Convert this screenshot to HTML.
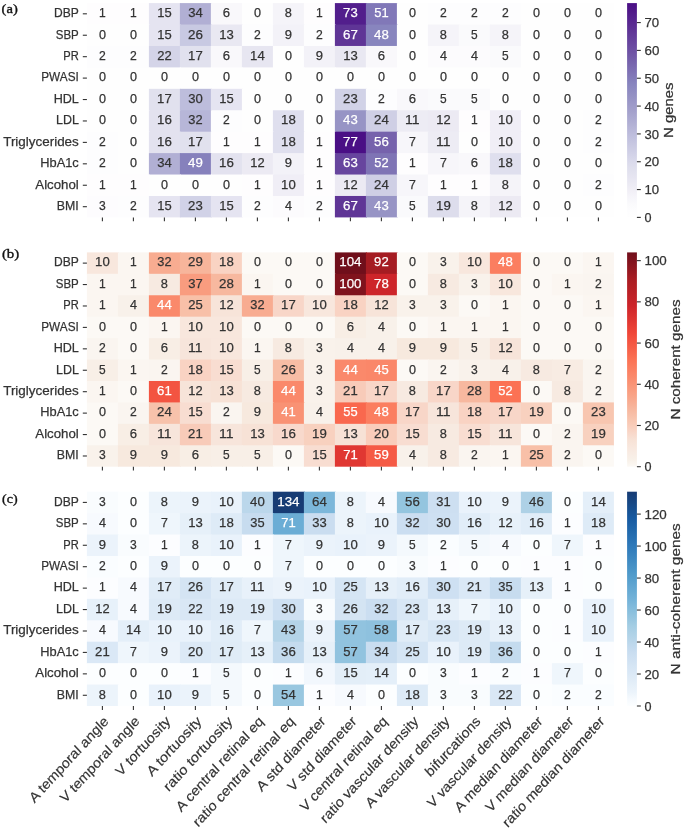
<!DOCTYPE html>
<html><head><meta charset="utf-8"><title>Heatmaps</title>
<style>
html,body{margin:0;padding:0;background:#fff;}
body{width:685px;height:830px;overflow:hidden;font-family:"Liberation Sans",sans-serif;}
svg{display:block;will-change:transform;}
text{stroke-width:0.25px;}
</style></head><body>
<svg width="685" height="830" viewBox="0 0 685 830" font-family="Liberation Sans, sans-serif"><g>
<rect x="86.90" y="3.10" width="32.00" height="22.43" fill="#fefdfe"/>
<rect x="117.90" y="3.10" width="32.00" height="22.43" fill="#fefdfe"/>
<rect x="148.90" y="3.10" width="32.00" height="22.43" fill="#e5e4f1"/>
<rect x="179.90" y="3.10" width="32.00" height="22.43" fill="#b1afd4"/>
<rect x="210.90" y="3.10" width="32.00" height="22.43" fill="#f9f8fb"/>
<rect x="241.90" y="3.10" width="32.00" height="22.43" fill="#fefefe"/>
<rect x="272.90" y="3.10" width="32.00" height="22.43" fill="#f5f4f9"/>
<rect x="303.90" y="3.10" width="32.00" height="22.43" fill="#fefdfe"/>
<rect x="334.90" y="3.10" width="32.00" height="22.43" fill="#521e8c"/>
<rect x="365.90" y="3.10" width="32.00" height="22.43" fill="#8178b8"/>
<rect x="396.90" y="3.10" width="32.00" height="22.43" fill="#fefefe"/>
<rect x="427.90" y="3.10" width="32.00" height="22.43" fill="#fdfdfe"/>
<rect x="458.90" y="3.10" width="32.00" height="22.43" fill="#fdfdfe"/>
<rect x="489.90" y="3.10" width="32.00" height="22.43" fill="#fdfdfe"/>
<rect x="520.90" y="3.10" width="32.00" height="22.43" fill="#fefefe"/>
<rect x="551.90" y="3.10" width="32.00" height="22.43" fill="#fefefe"/>
<rect x="582.90" y="3.10" width="31.00" height="22.43" fill="#fefefe"/>
<rect x="86.90" y="24.53" width="32.00" height="22.43" fill="#fefefe"/>
<rect x="117.90" y="24.53" width="32.00" height="22.43" fill="#fefefe"/>
<rect x="148.90" y="24.53" width="32.00" height="22.43" fill="#e5e4f1"/>
<rect x="179.90" y="24.53" width="32.00" height="22.43" fill="#c8c9e2"/>
<rect x="210.90" y="24.53" width="32.00" height="22.43" fill="#e9e8f2"/>
<rect x="241.90" y="24.53" width="32.00" height="22.43" fill="#fdfdfe"/>
<rect x="272.90" y="24.53" width="32.00" height="22.43" fill="#f3f2f8"/>
<rect x="303.90" y="24.53" width="32.00" height="22.43" fill="#fdfdfe"/>
<rect x="334.90" y="24.53" width="32.00" height="22.43" fill="#5f3596"/>
<rect x="365.90" y="24.53" width="32.00" height="22.43" fill="#8885be"/>
<rect x="396.90" y="24.53" width="32.00" height="22.43" fill="#fefefe"/>
<rect x="427.90" y="24.53" width="32.00" height="22.43" fill="#f5f4f9"/>
<rect x="458.90" y="24.53" width="32.00" height="22.43" fill="#fafafc"/>
<rect x="489.90" y="24.53" width="32.00" height="22.43" fill="#f5f4f9"/>
<rect x="520.90" y="24.53" width="32.00" height="22.43" fill="#fefefe"/>
<rect x="551.90" y="24.53" width="32.00" height="22.43" fill="#fefefe"/>
<rect x="582.90" y="24.53" width="31.00" height="22.43" fill="#fefefe"/>
<rect x="86.90" y="45.96" width="32.00" height="22.43" fill="#fdfdfe"/>
<rect x="117.90" y="45.96" width="32.00" height="22.43" fill="#fdfdfe"/>
<rect x="148.90" y="45.96" width="32.00" height="22.43" fill="#d4d4e8"/>
<rect x="179.90" y="45.96" width="32.00" height="22.43" fill="#e1e1ee"/>
<rect x="210.90" y="45.96" width="32.00" height="22.43" fill="#f9f8fb"/>
<rect x="241.90" y="45.96" width="32.00" height="22.43" fill="#e7e6f1"/>
<rect x="272.90" y="45.96" width="32.00" height="22.43" fill="#fefefe"/>
<rect x="303.90" y="45.96" width="32.00" height="22.43" fill="#f3f2f8"/>
<rect x="334.90" y="45.96" width="32.00" height="22.43" fill="#e9e8f2"/>
<rect x="365.90" y="45.96" width="32.00" height="22.43" fill="#f9f8fb"/>
<rect x="396.90" y="45.96" width="32.00" height="22.43" fill="#fefefe"/>
<rect x="427.90" y="45.96" width="32.00" height="22.43" fill="#fcfbfd"/>
<rect x="458.90" y="45.96" width="32.00" height="22.43" fill="#fcfbfd"/>
<rect x="489.90" y="45.96" width="32.00" height="22.43" fill="#fafafc"/>
<rect x="520.90" y="45.96" width="32.00" height="22.43" fill="#fefefe"/>
<rect x="551.90" y="45.96" width="32.00" height="22.43" fill="#fefefe"/>
<rect x="582.90" y="45.96" width="31.00" height="22.43" fill="#fefefe"/>
<rect x="86.90" y="67.39" width="32.00" height="22.43" fill="#fefefe"/>
<rect x="117.90" y="67.39" width="32.00" height="22.43" fill="#fefefe"/>
<rect x="148.90" y="67.39" width="32.00" height="22.43" fill="#fefefe"/>
<rect x="179.90" y="67.39" width="32.00" height="22.43" fill="#fefefe"/>
<rect x="210.90" y="67.39" width="32.00" height="22.43" fill="#fefefe"/>
<rect x="241.90" y="67.39" width="32.00" height="22.43" fill="#fefefe"/>
<rect x="272.90" y="67.39" width="32.00" height="22.43" fill="#fefefe"/>
<rect x="303.90" y="67.39" width="32.00" height="22.43" fill="#fefefe"/>
<rect x="334.90" y="67.39" width="32.00" height="22.43" fill="#fefefe"/>
<rect x="365.90" y="67.39" width="32.00" height="22.43" fill="#fefefe"/>
<rect x="396.90" y="67.39" width="32.00" height="22.43" fill="#fefefe"/>
<rect x="427.90" y="67.39" width="32.00" height="22.43" fill="#fefefe"/>
<rect x="458.90" y="67.39" width="32.00" height="22.43" fill="#fefefe"/>
<rect x="489.90" y="67.39" width="32.00" height="22.43" fill="#fefefe"/>
<rect x="520.90" y="67.39" width="32.00" height="22.43" fill="#fefefe"/>
<rect x="551.90" y="67.39" width="32.00" height="22.43" fill="#fefefe"/>
<rect x="582.90" y="67.39" width="31.00" height="22.43" fill="#fefefe"/>
<rect x="86.90" y="88.82" width="32.00" height="22.43" fill="#fefefe"/>
<rect x="117.90" y="88.82" width="32.00" height="22.43" fill="#fefefe"/>
<rect x="148.90" y="88.82" width="32.00" height="22.43" fill="#e1e1ee"/>
<rect x="179.90" y="88.82" width="32.00" height="22.43" fill="#bdbddc"/>
<rect x="210.90" y="88.82" width="32.00" height="22.43" fill="#e5e4f1"/>
<rect x="241.90" y="88.82" width="32.00" height="22.43" fill="#fefefe"/>
<rect x="272.90" y="88.82" width="32.00" height="22.43" fill="#fefefe"/>
<rect x="303.90" y="88.82" width="32.00" height="22.43" fill="#fefefe"/>
<rect x="334.90" y="88.82" width="32.00" height="22.43" fill="#d1d2e7"/>
<rect x="365.90" y="88.82" width="32.00" height="22.43" fill="#fdfdfe"/>
<rect x="396.90" y="88.82" width="32.00" height="22.43" fill="#f9f8fb"/>
<rect x="427.90" y="88.82" width="32.00" height="22.43" fill="#fafafc"/>
<rect x="458.90" y="88.82" width="32.00" height="22.43" fill="#fafafc"/>
<rect x="489.90" y="88.82" width="32.00" height="22.43" fill="#fefefe"/>
<rect x="520.90" y="88.82" width="32.00" height="22.43" fill="#fefefe"/>
<rect x="551.90" y="88.82" width="32.00" height="22.43" fill="#fefefe"/>
<rect x="582.90" y="88.82" width="31.00" height="22.43" fill="#fefefe"/>
<rect x="86.90" y="110.25" width="32.00" height="22.43" fill="#fefefe"/>
<rect x="117.90" y="110.25" width="32.00" height="22.43" fill="#fefefe"/>
<rect x="148.90" y="110.25" width="32.00" height="22.43" fill="#e3e2ef"/>
<rect x="179.90" y="110.25" width="32.00" height="22.43" fill="#b7b6d8"/>
<rect x="210.90" y="110.25" width="32.00" height="22.43" fill="#fdfdfe"/>
<rect x="241.90" y="110.25" width="32.00" height="22.43" fill="#fefefe"/>
<rect x="272.90" y="110.25" width="32.00" height="22.43" fill="#dfdfee"/>
<rect x="303.90" y="110.25" width="32.00" height="22.43" fill="#fefefe"/>
<rect x="334.90" y="110.25" width="32.00" height="22.43" fill="#9794c5"/>
<rect x="365.90" y="110.25" width="32.00" height="22.43" fill="#cfcfe5"/>
<rect x="396.90" y="110.25" width="32.00" height="22.43" fill="#edecf4"/>
<rect x="427.90" y="110.25" width="32.00" height="22.43" fill="#eceaf3"/>
<rect x="458.90" y="110.25" width="32.00" height="22.43" fill="#fefdfe"/>
<rect x="489.90" y="110.25" width="32.00" height="22.43" fill="#f0eef6"/>
<rect x="520.90" y="110.25" width="32.00" height="22.43" fill="#fefefe"/>
<rect x="551.90" y="110.25" width="32.00" height="22.43" fill="#fefefe"/>
<rect x="582.90" y="110.25" width="31.00" height="22.43" fill="#fdfdfe"/>
<rect x="86.90" y="131.68" width="32.00" height="22.43" fill="#fdfdfe"/>
<rect x="117.90" y="131.68" width="32.00" height="22.43" fill="#fefefe"/>
<rect x="148.90" y="131.68" width="32.00" height="22.43" fill="#e3e2ef"/>
<rect x="179.90" y="131.68" width="32.00" height="22.43" fill="#e1e1ee"/>
<rect x="210.90" y="131.68" width="32.00" height="22.43" fill="#fefdfe"/>
<rect x="241.90" y="131.68" width="32.00" height="22.43" fill="#fefdfe"/>
<rect x="272.90" y="131.68" width="32.00" height="22.43" fill="#dfdfee"/>
<rect x="303.90" y="131.68" width="32.00" height="22.43" fill="#fefdfe"/>
<rect x="334.90" y="131.68" width="32.00" height="22.43" fill="#4a0f85"/>
<rect x="365.90" y="131.68" width="32.00" height="22.43" fill="#7662ac"/>
<rect x="396.90" y="131.68" width="32.00" height="22.43" fill="#f7f6fa"/>
<rect x="427.90" y="131.68" width="32.00" height="22.43" fill="#edecf4"/>
<rect x="458.90" y="131.68" width="32.00" height="22.43" fill="#fefefe"/>
<rect x="489.90" y="131.68" width="32.00" height="22.43" fill="#f0eef6"/>
<rect x="520.90" y="131.68" width="32.00" height="22.43" fill="#fefefe"/>
<rect x="551.90" y="131.68" width="32.00" height="22.43" fill="#fefefe"/>
<rect x="582.90" y="131.68" width="31.00" height="22.43" fill="#fdfdfe"/>
<rect x="86.90" y="153.11" width="32.00" height="22.43" fill="#fdfdfe"/>
<rect x="117.90" y="153.11" width="32.00" height="22.43" fill="#fefefe"/>
<rect x="148.90" y="153.11" width="32.00" height="22.43" fill="#b1afd4"/>
<rect x="179.90" y="153.11" width="32.00" height="22.43" fill="#8681bc"/>
<rect x="210.90" y="153.11" width="32.00" height="22.43" fill="#e3e2ef"/>
<rect x="241.90" y="153.11" width="32.00" height="22.43" fill="#eceaf3"/>
<rect x="272.90" y="153.11" width="32.00" height="22.43" fill="#f3f2f8"/>
<rect x="303.90" y="153.11" width="32.00" height="22.43" fill="#fefdfe"/>
<rect x="334.90" y="153.11" width="32.00" height="22.43" fill="#67459e"/>
<rect x="365.90" y="153.11" width="32.00" height="22.43" fill="#7f74b5"/>
<rect x="396.90" y="153.11" width="32.00" height="22.43" fill="#fefdfe"/>
<rect x="427.90" y="153.11" width="32.00" height="22.43" fill="#f7f6fa"/>
<rect x="458.90" y="153.11" width="32.00" height="22.43" fill="#f9f8fb"/>
<rect x="489.90" y="153.11" width="32.00" height="22.43" fill="#dfdfee"/>
<rect x="520.90" y="153.11" width="32.00" height="22.43" fill="#fefefe"/>
<rect x="551.90" y="153.11" width="32.00" height="22.43" fill="#fefefe"/>
<rect x="582.90" y="153.11" width="31.00" height="22.43" fill="#fefefe"/>
<rect x="86.90" y="174.54" width="32.00" height="22.43" fill="#fefdfe"/>
<rect x="117.90" y="174.54" width="32.00" height="22.43" fill="#fefdfe"/>
<rect x="148.90" y="174.54" width="32.00" height="22.43" fill="#fefefe"/>
<rect x="179.90" y="174.54" width="32.00" height="22.43" fill="#fefefe"/>
<rect x="210.90" y="174.54" width="32.00" height="22.43" fill="#fefefe"/>
<rect x="241.90" y="174.54" width="32.00" height="22.43" fill="#fefdfe"/>
<rect x="272.90" y="174.54" width="32.00" height="22.43" fill="#f0eef6"/>
<rect x="303.90" y="174.54" width="32.00" height="22.43" fill="#fefdfe"/>
<rect x="334.90" y="174.54" width="32.00" height="22.43" fill="#eceaf3"/>
<rect x="365.90" y="174.54" width="32.00" height="22.43" fill="#cfcfe5"/>
<rect x="396.90" y="174.54" width="32.00" height="22.43" fill="#f7f6fa"/>
<rect x="427.90" y="174.54" width="32.00" height="22.43" fill="#fefdfe"/>
<rect x="458.90" y="174.54" width="32.00" height="22.43" fill="#fefdfe"/>
<rect x="489.90" y="174.54" width="32.00" height="22.43" fill="#f5f4f9"/>
<rect x="520.90" y="174.54" width="32.00" height="22.43" fill="#fefefe"/>
<rect x="551.90" y="174.54" width="32.00" height="22.43" fill="#fefefe"/>
<rect x="582.90" y="174.54" width="31.00" height="22.43" fill="#fdfdfe"/>
<rect x="86.90" y="195.97" width="32.00" height="21.43" fill="#fdfcfe"/>
<rect x="117.90" y="195.97" width="32.00" height="21.43" fill="#fdfdfe"/>
<rect x="148.90" y="195.97" width="32.00" height="21.43" fill="#e5e4f1"/>
<rect x="179.90" y="195.97" width="32.00" height="21.43" fill="#d1d2e7"/>
<rect x="210.90" y="195.97" width="32.00" height="21.43" fill="#e5e4f1"/>
<rect x="241.90" y="195.97" width="32.00" height="21.43" fill="#fdfdfe"/>
<rect x="272.90" y="195.97" width="32.00" height="21.43" fill="#fcfbfd"/>
<rect x="303.90" y="195.97" width="32.00" height="21.43" fill="#fdfdfe"/>
<rect x="334.90" y="195.97" width="32.00" height="21.43" fill="#5f3596"/>
<rect x="365.90" y="195.97" width="32.00" height="21.43" fill="#9794c5"/>
<rect x="396.90" y="195.97" width="32.00" height="21.43" fill="#fafafc"/>
<rect x="427.90" y="195.97" width="32.00" height="21.43" fill="#ddddec"/>
<rect x="458.90" y="195.97" width="32.00" height="21.43" fill="#f5f4f9"/>
<rect x="489.90" y="195.97" width="32.00" height="21.43" fill="#eceaf3"/>
<rect x="520.90" y="195.97" width="32.00" height="21.43" fill="#fefefe"/>
<rect x="551.90" y="195.97" width="32.00" height="21.43" fill="#fefefe"/>
<rect x="582.90" y="195.97" width="31.00" height="21.43" fill="#fefefe"/>
<text x="102.40" y="17.11" font-size="13.54" text-anchor="middle" fill="#333333" stroke="#333333" textLength="6.72" lengthAdjust="spacingAndGlyphs">1</text>
<text x="133.40" y="17.11" font-size="13.54" text-anchor="middle" fill="#333333" stroke="#333333" textLength="6.72" lengthAdjust="spacingAndGlyphs">1</text>
<text x="164.40" y="17.11" font-size="13.54" text-anchor="middle" fill="#333333" stroke="#333333" textLength="14.44" lengthAdjust="spacingAndGlyphs">15</text>
<text x="195.40" y="17.11" font-size="13.54" text-anchor="middle" fill="#333333" stroke="#333333" textLength="14.53" lengthAdjust="spacingAndGlyphs">34</text>
<text x="226.40" y="17.11" font-size="13.54" text-anchor="middle" fill="#333333" stroke="#333333" textLength="7.28" lengthAdjust="spacingAndGlyphs">6</text>
<text x="257.40" y="17.11" font-size="13.54" text-anchor="middle" fill="#333333" stroke="#333333" textLength="7.02" lengthAdjust="spacingAndGlyphs">0</text>
<text x="288.40" y="17.11" font-size="13.54" text-anchor="middle" fill="#333333" stroke="#333333" textLength="7.11" lengthAdjust="spacingAndGlyphs">8</text>
<text x="319.40" y="17.11" font-size="13.54" text-anchor="middle" fill="#333333" stroke="#333333" textLength="6.72" lengthAdjust="spacingAndGlyphs">1</text>
<text x="350.40" y="17.11" font-size="13.54" text-anchor="middle" fill="#ffffff" stroke="#ffffff" textLength="14.56" lengthAdjust="spacingAndGlyphs">73</text>
<text x="381.40" y="17.11" font-size="13.54" text-anchor="middle" fill="#ffffff" stroke="#ffffff" textLength="14.39" lengthAdjust="spacingAndGlyphs">51</text>
<text x="412.40" y="17.11" font-size="13.54" text-anchor="middle" fill="#333333" stroke="#333333" textLength="7.02" lengthAdjust="spacingAndGlyphs">0</text>
<text x="443.40" y="17.11" font-size="13.54" text-anchor="middle" fill="#333333" stroke="#333333" textLength="6.77" lengthAdjust="spacingAndGlyphs">2</text>
<text x="474.40" y="17.11" font-size="13.54" text-anchor="middle" fill="#333333" stroke="#333333" textLength="6.77" lengthAdjust="spacingAndGlyphs">2</text>
<text x="505.40" y="17.11" font-size="13.54" text-anchor="middle" fill="#333333" stroke="#333333" textLength="6.77" lengthAdjust="spacingAndGlyphs">2</text>
<text x="536.40" y="17.11" font-size="13.54" text-anchor="middle" fill="#333333" stroke="#333333" textLength="7.02" lengthAdjust="spacingAndGlyphs">0</text>
<text x="567.40" y="17.11" font-size="13.54" text-anchor="middle" fill="#333333" stroke="#333333" textLength="7.02" lengthAdjust="spacingAndGlyphs">0</text>
<text x="598.40" y="17.11" font-size="13.54" text-anchor="middle" fill="#333333" stroke="#333333" textLength="7.02" lengthAdjust="spacingAndGlyphs">0</text>
<text x="102.40" y="38.54" font-size="13.54" text-anchor="middle" fill="#333333" stroke="#333333" textLength="7.02" lengthAdjust="spacingAndGlyphs">0</text>
<text x="133.40" y="38.54" font-size="13.54" text-anchor="middle" fill="#333333" stroke="#333333" textLength="7.02" lengthAdjust="spacingAndGlyphs">0</text>
<text x="164.40" y="38.54" font-size="13.54" text-anchor="middle" fill="#333333" stroke="#333333" textLength="14.44" lengthAdjust="spacingAndGlyphs">15</text>
<text x="195.40" y="38.54" font-size="13.54" text-anchor="middle" fill="#333333" stroke="#333333" textLength="14.88" lengthAdjust="spacingAndGlyphs">26</text>
<text x="226.40" y="38.54" font-size="13.54" text-anchor="middle" fill="#333333" stroke="#333333" textLength="14.55" lengthAdjust="spacingAndGlyphs">13</text>
<text x="257.40" y="38.54" font-size="13.54" text-anchor="middle" fill="#333333" stroke="#333333" textLength="6.77" lengthAdjust="spacingAndGlyphs">2</text>
<text x="288.40" y="38.54" font-size="13.54" text-anchor="middle" fill="#333333" stroke="#333333" textLength="7.25" lengthAdjust="spacingAndGlyphs">9</text>
<text x="319.40" y="38.54" font-size="13.54" text-anchor="middle" fill="#333333" stroke="#333333" textLength="6.77" lengthAdjust="spacingAndGlyphs">2</text>
<text x="350.40" y="38.54" font-size="13.54" text-anchor="middle" fill="#ffffff" stroke="#ffffff" textLength="14.75" lengthAdjust="spacingAndGlyphs">67</text>
<text x="381.40" y="38.54" font-size="13.54" text-anchor="middle" fill="#ffffff" stroke="#ffffff" textLength="14.73" lengthAdjust="spacingAndGlyphs">48</text>
<text x="412.40" y="38.54" font-size="13.54" text-anchor="middle" fill="#333333" stroke="#333333" textLength="7.02" lengthAdjust="spacingAndGlyphs">0</text>
<text x="443.40" y="38.54" font-size="13.54" text-anchor="middle" fill="#333333" stroke="#333333" textLength="7.11" lengthAdjust="spacingAndGlyphs">8</text>
<text x="474.40" y="38.54" font-size="13.54" text-anchor="middle" fill="#333333" stroke="#333333" textLength="6.64" lengthAdjust="spacingAndGlyphs">5</text>
<text x="505.40" y="38.54" font-size="13.54" text-anchor="middle" fill="#333333" stroke="#333333" textLength="7.11" lengthAdjust="spacingAndGlyphs">8</text>
<text x="536.40" y="38.54" font-size="13.54" text-anchor="middle" fill="#333333" stroke="#333333" textLength="7.02" lengthAdjust="spacingAndGlyphs">0</text>
<text x="567.40" y="38.54" font-size="13.54" text-anchor="middle" fill="#333333" stroke="#333333" textLength="7.02" lengthAdjust="spacingAndGlyphs">0</text>
<text x="598.40" y="38.54" font-size="13.54" text-anchor="middle" fill="#333333" stroke="#333333" textLength="7.02" lengthAdjust="spacingAndGlyphs">0</text>
<text x="102.40" y="59.98" font-size="13.54" text-anchor="middle" fill="#333333" stroke="#333333" textLength="6.77" lengthAdjust="spacingAndGlyphs">2</text>
<text x="133.40" y="59.98" font-size="13.54" text-anchor="middle" fill="#333333" stroke="#333333" textLength="6.77" lengthAdjust="spacingAndGlyphs">2</text>
<text x="164.40" y="59.98" font-size="13.54" text-anchor="middle" fill="#333333" stroke="#333333" textLength="14.47" lengthAdjust="spacingAndGlyphs">22</text>
<text x="195.40" y="59.98" font-size="13.54" text-anchor="middle" fill="#333333" stroke="#333333" textLength="14.59" lengthAdjust="spacingAndGlyphs">17</text>
<text x="226.40" y="59.98" font-size="13.54" text-anchor="middle" fill="#333333" stroke="#333333" textLength="7.28" lengthAdjust="spacingAndGlyphs">6</text>
<text x="257.40" y="59.98" font-size="13.54" text-anchor="middle" fill="#333333" stroke="#333333" textLength="14.66" lengthAdjust="spacingAndGlyphs">14</text>
<text x="288.40" y="59.98" font-size="13.54" text-anchor="middle" fill="#333333" stroke="#333333" textLength="7.02" lengthAdjust="spacingAndGlyphs">0</text>
<text x="319.40" y="59.98" font-size="13.54" text-anchor="middle" fill="#333333" stroke="#333333" textLength="7.25" lengthAdjust="spacingAndGlyphs">9</text>
<text x="350.40" y="59.98" font-size="13.54" text-anchor="middle" fill="#333333" stroke="#333333" textLength="14.55" lengthAdjust="spacingAndGlyphs">13</text>
<text x="381.40" y="59.98" font-size="13.54" text-anchor="middle" fill="#333333" stroke="#333333" textLength="7.28" lengthAdjust="spacingAndGlyphs">6</text>
<text x="412.40" y="59.98" font-size="13.54" text-anchor="middle" fill="#333333" stroke="#333333" textLength="7.02" lengthAdjust="spacingAndGlyphs">0</text>
<text x="443.40" y="59.98" font-size="13.54" text-anchor="middle" fill="#333333" stroke="#333333" textLength="7.02" lengthAdjust="spacingAndGlyphs">4</text>
<text x="474.40" y="59.98" font-size="13.54" text-anchor="middle" fill="#333333" stroke="#333333" textLength="7.02" lengthAdjust="spacingAndGlyphs">4</text>
<text x="505.40" y="59.98" font-size="13.54" text-anchor="middle" fill="#333333" stroke="#333333" textLength="6.64" lengthAdjust="spacingAndGlyphs">5</text>
<text x="536.40" y="59.98" font-size="13.54" text-anchor="middle" fill="#333333" stroke="#333333" textLength="7.02" lengthAdjust="spacingAndGlyphs">0</text>
<text x="567.40" y="59.98" font-size="13.54" text-anchor="middle" fill="#333333" stroke="#333333" textLength="7.02" lengthAdjust="spacingAndGlyphs">0</text>
<text x="598.40" y="59.98" font-size="13.54" text-anchor="middle" fill="#333333" stroke="#333333" textLength="7.02" lengthAdjust="spacingAndGlyphs">0</text>
<text x="102.40" y="81.40" font-size="13.54" text-anchor="middle" fill="#333333" stroke="#333333" textLength="7.02" lengthAdjust="spacingAndGlyphs">0</text>
<text x="133.40" y="81.40" font-size="13.54" text-anchor="middle" fill="#333333" stroke="#333333" textLength="7.02" lengthAdjust="spacingAndGlyphs">0</text>
<text x="164.40" y="81.40" font-size="13.54" text-anchor="middle" fill="#333333" stroke="#333333" textLength="7.02" lengthAdjust="spacingAndGlyphs">0</text>
<text x="195.40" y="81.40" font-size="13.54" text-anchor="middle" fill="#333333" stroke="#333333" textLength="7.02" lengthAdjust="spacingAndGlyphs">0</text>
<text x="226.40" y="81.40" font-size="13.54" text-anchor="middle" fill="#333333" stroke="#333333" textLength="7.02" lengthAdjust="spacingAndGlyphs">0</text>
<text x="257.40" y="81.40" font-size="13.54" text-anchor="middle" fill="#333333" stroke="#333333" textLength="7.02" lengthAdjust="spacingAndGlyphs">0</text>
<text x="288.40" y="81.40" font-size="13.54" text-anchor="middle" fill="#333333" stroke="#333333" textLength="7.02" lengthAdjust="spacingAndGlyphs">0</text>
<text x="319.40" y="81.40" font-size="13.54" text-anchor="middle" fill="#333333" stroke="#333333" textLength="7.02" lengthAdjust="spacingAndGlyphs">0</text>
<text x="350.40" y="81.40" font-size="13.54" text-anchor="middle" fill="#333333" stroke="#333333" textLength="7.02" lengthAdjust="spacingAndGlyphs">0</text>
<text x="381.40" y="81.40" font-size="13.54" text-anchor="middle" fill="#333333" stroke="#333333" textLength="7.02" lengthAdjust="spacingAndGlyphs">0</text>
<text x="412.40" y="81.40" font-size="13.54" text-anchor="middle" fill="#333333" stroke="#333333" textLength="7.02" lengthAdjust="spacingAndGlyphs">0</text>
<text x="443.40" y="81.40" font-size="13.54" text-anchor="middle" fill="#333333" stroke="#333333" textLength="7.02" lengthAdjust="spacingAndGlyphs">0</text>
<text x="474.40" y="81.40" font-size="13.54" text-anchor="middle" fill="#333333" stroke="#333333" textLength="7.02" lengthAdjust="spacingAndGlyphs">0</text>
<text x="505.40" y="81.40" font-size="13.54" text-anchor="middle" fill="#333333" stroke="#333333" textLength="7.02" lengthAdjust="spacingAndGlyphs">0</text>
<text x="536.40" y="81.40" font-size="13.54" text-anchor="middle" fill="#333333" stroke="#333333" textLength="7.02" lengthAdjust="spacingAndGlyphs">0</text>
<text x="567.40" y="81.40" font-size="13.54" text-anchor="middle" fill="#333333" stroke="#333333" textLength="7.02" lengthAdjust="spacingAndGlyphs">0</text>
<text x="598.40" y="81.40" font-size="13.54" text-anchor="middle" fill="#333333" stroke="#333333" textLength="7.02" lengthAdjust="spacingAndGlyphs">0</text>
<text x="102.40" y="102.83" font-size="13.54" text-anchor="middle" fill="#333333" stroke="#333333" textLength="7.02" lengthAdjust="spacingAndGlyphs">0</text>
<text x="133.40" y="102.83" font-size="13.54" text-anchor="middle" fill="#333333" stroke="#333333" textLength="7.02" lengthAdjust="spacingAndGlyphs">0</text>
<text x="164.40" y="102.83" font-size="13.54" text-anchor="middle" fill="#333333" stroke="#333333" textLength="14.59" lengthAdjust="spacingAndGlyphs">17</text>
<text x="195.40" y="102.83" font-size="13.54" text-anchor="middle" fill="#333333" stroke="#333333" textLength="14.54" lengthAdjust="spacingAndGlyphs">30</text>
<text x="226.40" y="102.83" font-size="13.54" text-anchor="middle" fill="#333333" stroke="#333333" textLength="14.44" lengthAdjust="spacingAndGlyphs">15</text>
<text x="257.40" y="102.83" font-size="13.54" text-anchor="middle" fill="#333333" stroke="#333333" textLength="7.02" lengthAdjust="spacingAndGlyphs">0</text>
<text x="288.40" y="102.83" font-size="13.54" text-anchor="middle" fill="#333333" stroke="#333333" textLength="7.02" lengthAdjust="spacingAndGlyphs">0</text>
<text x="319.40" y="102.83" font-size="13.54" text-anchor="middle" fill="#333333" stroke="#333333" textLength="7.02" lengthAdjust="spacingAndGlyphs">0</text>
<text x="350.40" y="102.83" font-size="13.54" text-anchor="middle" fill="#333333" stroke="#333333" textLength="14.64" lengthAdjust="spacingAndGlyphs">23</text>
<text x="381.40" y="102.83" font-size="13.54" text-anchor="middle" fill="#333333" stroke="#333333" textLength="6.77" lengthAdjust="spacingAndGlyphs">2</text>
<text x="412.40" y="102.83" font-size="13.54" text-anchor="middle" fill="#333333" stroke="#333333" textLength="7.28" lengthAdjust="spacingAndGlyphs">6</text>
<text x="443.40" y="102.83" font-size="13.54" text-anchor="middle" fill="#333333" stroke="#333333" textLength="6.64" lengthAdjust="spacingAndGlyphs">5</text>
<text x="474.40" y="102.83" font-size="13.54" text-anchor="middle" fill="#333333" stroke="#333333" textLength="6.64" lengthAdjust="spacingAndGlyphs">5</text>
<text x="505.40" y="102.83" font-size="13.54" text-anchor="middle" fill="#333333" stroke="#333333" textLength="7.02" lengthAdjust="spacingAndGlyphs">0</text>
<text x="536.40" y="102.83" font-size="13.54" text-anchor="middle" fill="#333333" stroke="#333333" textLength="7.02" lengthAdjust="spacingAndGlyphs">0</text>
<text x="567.40" y="102.83" font-size="13.54" text-anchor="middle" fill="#333333" stroke="#333333" textLength="7.02" lengthAdjust="spacingAndGlyphs">0</text>
<text x="598.40" y="102.83" font-size="13.54" text-anchor="middle" fill="#333333" stroke="#333333" textLength="7.02" lengthAdjust="spacingAndGlyphs">0</text>
<text x="102.40" y="124.26" font-size="13.54" text-anchor="middle" fill="#333333" stroke="#333333" textLength="7.02" lengthAdjust="spacingAndGlyphs">0</text>
<text x="133.40" y="124.26" font-size="13.54" text-anchor="middle" fill="#333333" stroke="#333333" textLength="7.02" lengthAdjust="spacingAndGlyphs">0</text>
<text x="164.40" y="124.26" font-size="13.54" text-anchor="middle" fill="#333333" stroke="#333333" textLength="14.80" lengthAdjust="spacingAndGlyphs">16</text>
<text x="195.40" y="124.26" font-size="13.54" text-anchor="middle" fill="#333333" stroke="#333333" textLength="14.26" lengthAdjust="spacingAndGlyphs">32</text>
<text x="226.40" y="124.26" font-size="13.54" text-anchor="middle" fill="#333333" stroke="#333333" textLength="6.77" lengthAdjust="spacingAndGlyphs">2</text>
<text x="257.40" y="124.26" font-size="13.54" text-anchor="middle" fill="#333333" stroke="#333333" textLength="7.02" lengthAdjust="spacingAndGlyphs">0</text>
<text x="288.40" y="124.26" font-size="13.54" text-anchor="middle" fill="#333333" stroke="#333333" textLength="14.72" lengthAdjust="spacingAndGlyphs">18</text>
<text x="319.40" y="124.26" font-size="13.54" text-anchor="middle" fill="#333333" stroke="#333333" textLength="7.02" lengthAdjust="spacingAndGlyphs">0</text>
<text x="350.40" y="124.26" font-size="13.54" text-anchor="middle" fill="#ffffff" stroke="#ffffff" textLength="14.57" lengthAdjust="spacingAndGlyphs">43</text>
<text x="381.40" y="124.26" font-size="13.54" text-anchor="middle" fill="#333333" stroke="#333333" textLength="14.74" lengthAdjust="spacingAndGlyphs">24</text>
<text x="412.40" y="124.26" font-size="13.54" text-anchor="middle" fill="#333333" stroke="#333333" textLength="14.60" lengthAdjust="spacingAndGlyphs">11</text>
<text x="443.40" y="124.26" font-size="13.54" text-anchor="middle" fill="#333333" stroke="#333333" textLength="14.37" lengthAdjust="spacingAndGlyphs">12</text>
<text x="474.40" y="124.26" font-size="13.54" text-anchor="middle" fill="#333333" stroke="#333333" textLength="6.72" lengthAdjust="spacingAndGlyphs">1</text>
<text x="505.40" y="124.26" font-size="13.54" text-anchor="middle" fill="#333333" stroke="#333333" textLength="14.66" lengthAdjust="spacingAndGlyphs">10</text>
<text x="536.40" y="124.26" font-size="13.54" text-anchor="middle" fill="#333333" stroke="#333333" textLength="7.02" lengthAdjust="spacingAndGlyphs">0</text>
<text x="567.40" y="124.26" font-size="13.54" text-anchor="middle" fill="#333333" stroke="#333333" textLength="7.02" lengthAdjust="spacingAndGlyphs">0</text>
<text x="598.40" y="124.26" font-size="13.54" text-anchor="middle" fill="#333333" stroke="#333333" textLength="6.77" lengthAdjust="spacingAndGlyphs">2</text>
<text x="102.40" y="145.69" font-size="13.54" text-anchor="middle" fill="#333333" stroke="#333333" textLength="6.77" lengthAdjust="spacingAndGlyphs">2</text>
<text x="133.40" y="145.69" font-size="13.54" text-anchor="middle" fill="#333333" stroke="#333333" textLength="7.02" lengthAdjust="spacingAndGlyphs">0</text>
<text x="164.40" y="145.69" font-size="13.54" text-anchor="middle" fill="#333333" stroke="#333333" textLength="14.80" lengthAdjust="spacingAndGlyphs">16</text>
<text x="195.40" y="145.69" font-size="13.54" text-anchor="middle" fill="#333333" stroke="#333333" textLength="14.59" lengthAdjust="spacingAndGlyphs">17</text>
<text x="226.40" y="145.69" font-size="13.54" text-anchor="middle" fill="#333333" stroke="#333333" textLength="6.72" lengthAdjust="spacingAndGlyphs">1</text>
<text x="257.40" y="145.69" font-size="13.54" text-anchor="middle" fill="#333333" stroke="#333333" textLength="6.72" lengthAdjust="spacingAndGlyphs">1</text>
<text x="288.40" y="145.69" font-size="13.54" text-anchor="middle" fill="#333333" stroke="#333333" textLength="14.72" lengthAdjust="spacingAndGlyphs">18</text>
<text x="319.40" y="145.69" font-size="13.54" text-anchor="middle" fill="#333333" stroke="#333333" textLength="6.72" lengthAdjust="spacingAndGlyphs">1</text>
<text x="350.40" y="145.69" font-size="13.54" text-anchor="middle" fill="#ffffff" stroke="#ffffff" textLength="14.59" lengthAdjust="spacingAndGlyphs">77</text>
<text x="381.40" y="145.69" font-size="13.54" text-anchor="middle" fill="#ffffff" stroke="#ffffff" textLength="14.70" lengthAdjust="spacingAndGlyphs">56</text>
<text x="412.40" y="145.69" font-size="13.54" text-anchor="middle" fill="#333333" stroke="#333333" textLength="6.88" lengthAdjust="spacingAndGlyphs">7</text>
<text x="443.40" y="145.69" font-size="13.54" text-anchor="middle" fill="#333333" stroke="#333333" textLength="14.60" lengthAdjust="spacingAndGlyphs">11</text>
<text x="474.40" y="145.69" font-size="13.54" text-anchor="middle" fill="#333333" stroke="#333333" textLength="7.02" lengthAdjust="spacingAndGlyphs">0</text>
<text x="505.40" y="145.69" font-size="13.54" text-anchor="middle" fill="#333333" stroke="#333333" textLength="14.66" lengthAdjust="spacingAndGlyphs">10</text>
<text x="536.40" y="145.69" font-size="13.54" text-anchor="middle" fill="#333333" stroke="#333333" textLength="7.02" lengthAdjust="spacingAndGlyphs">0</text>
<text x="567.40" y="145.69" font-size="13.54" text-anchor="middle" fill="#333333" stroke="#333333" textLength="7.02" lengthAdjust="spacingAndGlyphs">0</text>
<text x="598.40" y="145.69" font-size="13.54" text-anchor="middle" fill="#333333" stroke="#333333" textLength="6.77" lengthAdjust="spacingAndGlyphs">2</text>
<text x="102.40" y="167.12" font-size="13.54" text-anchor="middle" fill="#333333" stroke="#333333" textLength="6.77" lengthAdjust="spacingAndGlyphs">2</text>
<text x="133.40" y="167.12" font-size="13.54" text-anchor="middle" fill="#333333" stroke="#333333" textLength="7.02" lengthAdjust="spacingAndGlyphs">0</text>
<text x="164.40" y="167.12" font-size="13.54" text-anchor="middle" fill="#333333" stroke="#333333" textLength="14.53" lengthAdjust="spacingAndGlyphs">34</text>
<text x="195.40" y="167.12" font-size="13.54" text-anchor="middle" fill="#ffffff" stroke="#ffffff" textLength="14.74" lengthAdjust="spacingAndGlyphs">49</text>
<text x="226.40" y="167.12" font-size="13.54" text-anchor="middle" fill="#333333" stroke="#333333" textLength="14.80" lengthAdjust="spacingAndGlyphs">16</text>
<text x="257.40" y="167.12" font-size="13.54" text-anchor="middle" fill="#333333" stroke="#333333" textLength="14.37" lengthAdjust="spacingAndGlyphs">12</text>
<text x="288.40" y="167.12" font-size="13.54" text-anchor="middle" fill="#333333" stroke="#333333" textLength="7.25" lengthAdjust="spacingAndGlyphs">9</text>
<text x="319.40" y="167.12" font-size="13.54" text-anchor="middle" fill="#333333" stroke="#333333" textLength="6.72" lengthAdjust="spacingAndGlyphs">1</text>
<text x="350.40" y="167.12" font-size="13.54" text-anchor="middle" fill="#ffffff" stroke="#ffffff" textLength="14.71" lengthAdjust="spacingAndGlyphs">63</text>
<text x="381.40" y="167.12" font-size="13.54" text-anchor="middle" fill="#ffffff" stroke="#ffffff" textLength="14.29" lengthAdjust="spacingAndGlyphs">52</text>
<text x="412.40" y="167.12" font-size="13.54" text-anchor="middle" fill="#333333" stroke="#333333" textLength="6.72" lengthAdjust="spacingAndGlyphs">1</text>
<text x="443.40" y="167.12" font-size="13.54" text-anchor="middle" fill="#333333" stroke="#333333" textLength="6.88" lengthAdjust="spacingAndGlyphs">7</text>
<text x="474.40" y="167.12" font-size="13.54" text-anchor="middle" fill="#333333" stroke="#333333" textLength="7.28" lengthAdjust="spacingAndGlyphs">6</text>
<text x="505.40" y="167.12" font-size="13.54" text-anchor="middle" fill="#333333" stroke="#333333" textLength="14.72" lengthAdjust="spacingAndGlyphs">18</text>
<text x="536.40" y="167.12" font-size="13.54" text-anchor="middle" fill="#333333" stroke="#333333" textLength="7.02" lengthAdjust="spacingAndGlyphs">0</text>
<text x="567.40" y="167.12" font-size="13.54" text-anchor="middle" fill="#333333" stroke="#333333" textLength="7.02" lengthAdjust="spacingAndGlyphs">0</text>
<text x="598.40" y="167.12" font-size="13.54" text-anchor="middle" fill="#333333" stroke="#333333" textLength="7.02" lengthAdjust="spacingAndGlyphs">0</text>
<text x="102.40" y="188.56" font-size="13.54" text-anchor="middle" fill="#333333" stroke="#333333" textLength="6.72" lengthAdjust="spacingAndGlyphs">1</text>
<text x="133.40" y="188.56" font-size="13.54" text-anchor="middle" fill="#333333" stroke="#333333" textLength="6.72" lengthAdjust="spacingAndGlyphs">1</text>
<text x="164.40" y="188.56" font-size="13.54" text-anchor="middle" fill="#333333" stroke="#333333" textLength="7.02" lengthAdjust="spacingAndGlyphs">0</text>
<text x="195.40" y="188.56" font-size="13.54" text-anchor="middle" fill="#333333" stroke="#333333" textLength="7.02" lengthAdjust="spacingAndGlyphs">0</text>
<text x="226.40" y="188.56" font-size="13.54" text-anchor="middle" fill="#333333" stroke="#333333" textLength="7.02" lengthAdjust="spacingAndGlyphs">0</text>
<text x="257.40" y="188.56" font-size="13.54" text-anchor="middle" fill="#333333" stroke="#333333" textLength="6.72" lengthAdjust="spacingAndGlyphs">1</text>
<text x="288.40" y="188.56" font-size="13.54" text-anchor="middle" fill="#333333" stroke="#333333" textLength="14.66" lengthAdjust="spacingAndGlyphs">10</text>
<text x="319.40" y="188.56" font-size="13.54" text-anchor="middle" fill="#333333" stroke="#333333" textLength="6.72" lengthAdjust="spacingAndGlyphs">1</text>
<text x="350.40" y="188.56" font-size="13.54" text-anchor="middle" fill="#333333" stroke="#333333" textLength="14.37" lengthAdjust="spacingAndGlyphs">12</text>
<text x="381.40" y="188.56" font-size="13.54" text-anchor="middle" fill="#333333" stroke="#333333" textLength="14.74" lengthAdjust="spacingAndGlyphs">24</text>
<text x="412.40" y="188.56" font-size="13.54" text-anchor="middle" fill="#333333" stroke="#333333" textLength="6.88" lengthAdjust="spacingAndGlyphs">7</text>
<text x="443.40" y="188.56" font-size="13.54" text-anchor="middle" fill="#333333" stroke="#333333" textLength="6.72" lengthAdjust="spacingAndGlyphs">1</text>
<text x="474.40" y="188.56" font-size="13.54" text-anchor="middle" fill="#333333" stroke="#333333" textLength="6.72" lengthAdjust="spacingAndGlyphs">1</text>
<text x="505.40" y="188.56" font-size="13.54" text-anchor="middle" fill="#333333" stroke="#333333" textLength="7.11" lengthAdjust="spacingAndGlyphs">8</text>
<text x="536.40" y="188.56" font-size="13.54" text-anchor="middle" fill="#333333" stroke="#333333" textLength="7.02" lengthAdjust="spacingAndGlyphs">0</text>
<text x="567.40" y="188.56" font-size="13.54" text-anchor="middle" fill="#333333" stroke="#333333" textLength="7.02" lengthAdjust="spacingAndGlyphs">0</text>
<text x="598.40" y="188.56" font-size="13.54" text-anchor="middle" fill="#333333" stroke="#333333" textLength="6.77" lengthAdjust="spacingAndGlyphs">2</text>
<text x="102.40" y="209.99" font-size="13.54" text-anchor="middle" fill="#333333" stroke="#333333" textLength="6.74" lengthAdjust="spacingAndGlyphs">3</text>
<text x="133.40" y="209.99" font-size="13.54" text-anchor="middle" fill="#333333" stroke="#333333" textLength="6.77" lengthAdjust="spacingAndGlyphs">2</text>
<text x="164.40" y="209.99" font-size="13.54" text-anchor="middle" fill="#333333" stroke="#333333" textLength="14.44" lengthAdjust="spacingAndGlyphs">15</text>
<text x="195.40" y="209.99" font-size="13.54" text-anchor="middle" fill="#333333" stroke="#333333" textLength="14.64" lengthAdjust="spacingAndGlyphs">23</text>
<text x="226.40" y="209.99" font-size="13.54" text-anchor="middle" fill="#333333" stroke="#333333" textLength="14.44" lengthAdjust="spacingAndGlyphs">15</text>
<text x="257.40" y="209.99" font-size="13.54" text-anchor="middle" fill="#333333" stroke="#333333" textLength="6.77" lengthAdjust="spacingAndGlyphs">2</text>
<text x="288.40" y="209.99" font-size="13.54" text-anchor="middle" fill="#333333" stroke="#333333" textLength="7.02" lengthAdjust="spacingAndGlyphs">4</text>
<text x="319.40" y="209.99" font-size="13.54" text-anchor="middle" fill="#333333" stroke="#333333" textLength="6.77" lengthAdjust="spacingAndGlyphs">2</text>
<text x="350.40" y="209.99" font-size="13.54" text-anchor="middle" fill="#ffffff" stroke="#ffffff" textLength="14.75" lengthAdjust="spacingAndGlyphs">67</text>
<text x="381.40" y="209.99" font-size="13.54" text-anchor="middle" fill="#ffffff" stroke="#ffffff" textLength="14.57" lengthAdjust="spacingAndGlyphs">43</text>
<text x="412.40" y="209.99" font-size="13.54" text-anchor="middle" fill="#333333" stroke="#333333" textLength="6.64" lengthAdjust="spacingAndGlyphs">5</text>
<text x="443.40" y="209.99" font-size="13.54" text-anchor="middle" fill="#333333" stroke="#333333" textLength="14.73" lengthAdjust="spacingAndGlyphs">19</text>
<text x="474.40" y="209.99" font-size="13.54" text-anchor="middle" fill="#333333" stroke="#333333" textLength="7.11" lengthAdjust="spacingAndGlyphs">8</text>
<text x="505.40" y="209.99" font-size="13.54" text-anchor="middle" fill="#333333" stroke="#333333" textLength="14.37" lengthAdjust="spacingAndGlyphs">12</text>
<text x="536.40" y="209.99" font-size="13.54" text-anchor="middle" fill="#333333" stroke="#333333" textLength="7.02" lengthAdjust="spacingAndGlyphs">0</text>
<text x="567.40" y="209.99" font-size="13.54" text-anchor="middle" fill="#333333" stroke="#333333" textLength="7.02" lengthAdjust="spacingAndGlyphs">0</text>
<text x="598.40" y="209.99" font-size="13.54" text-anchor="middle" fill="#333333" stroke="#333333" textLength="7.02" lengthAdjust="spacingAndGlyphs">0</text>
<line x1="82.80" y1="13.81" x2="86.90" y2="13.81" stroke="#333333" stroke-width="1.1"/>
<text x="78.80" y="17.11" font-size="13.54" text-anchor="end" fill="#333333" stroke="#333333" textLength="24.76" lengthAdjust="spacingAndGlyphs">DBP</text>
<line x1="82.80" y1="35.24" x2="86.90" y2="35.24" stroke="#333333" stroke-width="1.1"/>
<text x="78.80" y="38.54" font-size="13.54" text-anchor="end" fill="#333333" stroke="#333333" textLength="23.03" lengthAdjust="spacingAndGlyphs">SBP</text>
<line x1="82.80" y1="56.68" x2="86.90" y2="56.68" stroke="#333333" stroke-width="1.1"/>
<text x="78.80" y="59.98" font-size="13.54" text-anchor="end" fill="#333333" stroke="#333333" textLength="15.49" lengthAdjust="spacingAndGlyphs">PR</text>
<line x1="82.80" y1="78.10" x2="86.90" y2="78.10" stroke="#333333" stroke-width="1.1"/>
<text x="78.80" y="81.40" font-size="13.54" text-anchor="end" fill="#333333" stroke="#333333" textLength="37.53" lengthAdjust="spacingAndGlyphs">PWASI</text>
<line x1="82.80" y1="99.53" x2="86.90" y2="99.53" stroke="#333333" stroke-width="1.1"/>
<text x="78.80" y="102.83" font-size="13.54" text-anchor="end" fill="#333333" stroke="#333333" textLength="25.17" lengthAdjust="spacingAndGlyphs">HDL</text>
<line x1="82.80" y1="120.96" x2="86.90" y2="120.96" stroke="#333333" stroke-width="1.1"/>
<text x="78.80" y="124.26" font-size="13.54" text-anchor="end" fill="#333333" stroke="#333333" textLength="22.81" lengthAdjust="spacingAndGlyphs">LDL</text>
<line x1="82.80" y1="142.39" x2="86.90" y2="142.39" stroke="#333333" stroke-width="1.1"/>
<text x="78.80" y="145.69" font-size="13.54" text-anchor="end" fill="#333333" stroke="#333333" textLength="75.61" lengthAdjust="spacingAndGlyphs">Triglycerides</text>
<line x1="82.80" y1="163.82" x2="86.90" y2="163.82" stroke="#333333" stroke-width="1.1"/>
<text x="78.80" y="167.12" font-size="13.54" text-anchor="end" fill="#333333" stroke="#333333" textLength="38.57" lengthAdjust="spacingAndGlyphs">HbA1c</text>
<line x1="82.80" y1="185.25" x2="86.90" y2="185.25" stroke="#333333" stroke-width="1.1"/>
<text x="78.80" y="188.56" font-size="13.54" text-anchor="end" fill="#333333" stroke="#333333" textLength="43.48" lengthAdjust="spacingAndGlyphs">Alcohol</text>
<line x1="82.80" y1="206.69" x2="86.90" y2="206.69" stroke="#333333" stroke-width="1.1"/>
<text x="78.80" y="209.99" font-size="13.54" text-anchor="end" fill="#333333" stroke="#333333" textLength="21.94" lengthAdjust="spacingAndGlyphs">BMI</text>
<line x1="102.40" y1="217.40" x2="102.40" y2="221.30" stroke="#333333" stroke-width="1.1"/>
<line x1="133.40" y1="217.40" x2="133.40" y2="221.30" stroke="#333333" stroke-width="1.1"/>
<line x1="164.40" y1="217.40" x2="164.40" y2="221.30" stroke="#333333" stroke-width="1.1"/>
<line x1="195.40" y1="217.40" x2="195.40" y2="221.30" stroke="#333333" stroke-width="1.1"/>
<line x1="226.40" y1="217.40" x2="226.40" y2="221.30" stroke="#333333" stroke-width="1.1"/>
<line x1="257.40" y1="217.40" x2="257.40" y2="221.30" stroke="#333333" stroke-width="1.1"/>
<line x1="288.40" y1="217.40" x2="288.40" y2="221.30" stroke="#333333" stroke-width="1.1"/>
<line x1="319.40" y1="217.40" x2="319.40" y2="221.30" stroke="#333333" stroke-width="1.1"/>
<line x1="350.40" y1="217.40" x2="350.40" y2="221.30" stroke="#333333" stroke-width="1.1"/>
<line x1="381.40" y1="217.40" x2="381.40" y2="221.30" stroke="#333333" stroke-width="1.1"/>
<line x1="412.40" y1="217.40" x2="412.40" y2="221.30" stroke="#333333" stroke-width="1.1"/>
<line x1="443.40" y1="217.40" x2="443.40" y2="221.30" stroke="#333333" stroke-width="1.1"/>
<line x1="474.40" y1="217.40" x2="474.40" y2="221.30" stroke="#333333" stroke-width="1.1"/>
<line x1="505.40" y1="217.40" x2="505.40" y2="221.30" stroke="#333333" stroke-width="1.1"/>
<line x1="536.40" y1="217.40" x2="536.40" y2="221.30" stroke="#333333" stroke-width="1.1"/>
<line x1="567.40" y1="217.40" x2="567.40" y2="221.30" stroke="#333333" stroke-width="1.1"/>
<line x1="598.40" y1="217.40" x2="598.40" y2="221.30" stroke="#333333" stroke-width="1.1"/>
<defs><linearGradient id="g0" x1="0" y1="1" x2="0" y2="0"><stop offset="0.0000" stop-color="#fefefe"/><stop offset="0.0312" stop-color="#fdfdfe"/><stop offset="0.0625" stop-color="#fafafc"/><stop offset="0.0938" stop-color="#f6f5fa"/><stop offset="0.1250" stop-color="#f1eff6"/><stop offset="0.1562" stop-color="#ebeaf3"/><stop offset="0.1875" stop-color="#e6e5f1"/><stop offset="0.2188" stop-color="#e1e1ee"/><stop offset="0.2500" stop-color="#dcdcec"/><stop offset="0.2812" stop-color="#d5d5e9"/><stop offset="0.3125" stop-color="#cecee5"/><stop offset="0.3438" stop-color="#c7c7e1"/><stop offset="0.3750" stop-color="#c0c0de"/><stop offset="0.4062" stop-color="#b9b8d9"/><stop offset="0.4375" stop-color="#b1b0d4"/><stop offset="0.4688" stop-color="#aaa8d0"/><stop offset="0.5000" stop-color="#a3a0cb"/><stop offset="0.5312" stop-color="#9c99c8"/><stop offset="0.5625" stop-color="#9592c4"/><stop offset="0.5938" stop-color="#8e8bc1"/><stop offset="0.6250" stop-color="#8784be"/><stop offset="0.6562" stop-color="#8279b8"/><stop offset="0.6875" stop-color="#7d6fb3"/><stop offset="0.7188" stop-color="#7765ad"/><stop offset="0.7500" stop-color="#725aa8"/><stop offset="0.7812" stop-color="#6d50a3"/><stop offset="0.8125" stop-color="#68469f"/><stop offset="0.8438" stop-color="#633d9a"/><stop offset="0.8750" stop-color="#5e3395"/><stop offset="0.9062" stop-color="#592991"/><stop offset="0.9375" stop-color="#54208d"/><stop offset="0.9688" stop-color="#4f1788"/><stop offset="1.0000" stop-color="#4a0f85"/></linearGradient></defs>
<rect x="627.10" y="3.10" width="9.80" height="214.30" fill="url(#g0)"/>
<line x1="636.90" y1="217.40" x2="640.80" y2="217.40" stroke="#333333" stroke-width="1.1"/>
<text x="644.50" y="222.00" font-size="13.54" text-anchor="start" fill="#333333" stroke="#333333" textLength="7.02" lengthAdjust="spacingAndGlyphs">0</text>
<line x1="636.90" y1="189.57" x2="640.80" y2="189.57" stroke="#333333" stroke-width="1.1"/>
<text x="644.50" y="194.17" font-size="13.54" text-anchor="start" fill="#333333" stroke="#333333" textLength="14.66" lengthAdjust="spacingAndGlyphs">10</text>
<line x1="636.90" y1="161.74" x2="640.80" y2="161.74" stroke="#333333" stroke-width="1.1"/>
<text x="644.50" y="166.34" font-size="13.54" text-anchor="start" fill="#333333" stroke="#333333" textLength="14.75" lengthAdjust="spacingAndGlyphs">20</text>
<line x1="636.90" y1="133.91" x2="640.80" y2="133.91" stroke="#333333" stroke-width="1.1"/>
<text x="644.50" y="138.51" font-size="13.54" text-anchor="start" fill="#333333" stroke="#333333" textLength="14.54" lengthAdjust="spacingAndGlyphs">30</text>
<line x1="636.90" y1="106.08" x2="640.80" y2="106.08" stroke="#333333" stroke-width="1.1"/>
<text x="644.50" y="110.68" font-size="13.54" text-anchor="start" fill="#333333" stroke="#333333" textLength="14.68" lengthAdjust="spacingAndGlyphs">40</text>
<line x1="636.90" y1="78.24" x2="640.80" y2="78.24" stroke="#333333" stroke-width="1.1"/>
<text x="644.50" y="82.84" font-size="13.54" text-anchor="start" fill="#333333" stroke="#333333" textLength="14.57" lengthAdjust="spacingAndGlyphs">50</text>
<line x1="636.90" y1="50.41" x2="640.80" y2="50.41" stroke="#333333" stroke-width="1.1"/>
<text x="644.50" y="55.01" font-size="13.54" text-anchor="start" fill="#333333" stroke="#333333" textLength="14.82" lengthAdjust="spacingAndGlyphs">60</text>
<line x1="636.90" y1="22.58" x2="640.80" y2="22.58" stroke="#333333" stroke-width="1.1"/>
<text x="644.50" y="27.18" font-size="13.54" text-anchor="start" fill="#333333" stroke="#333333" textLength="14.67" lengthAdjust="spacingAndGlyphs">70</text>
<text transform="translate(672.95,110.25) rotate(-90)" x="0" y="0" font-size="13.01" text-anchor="middle" fill="#333333" stroke="#333333" textLength="55.33" lengthAdjust="spacingAndGlyphs">N genes</text>
<text x="1.60" y="13.30" font-size="13.3" fill="#111" stroke="#111" style="stroke-width:0.35px;font-family:'Liberation Serif',serif" textLength="16.20" lengthAdjust="spacingAndGlyphs">(a)</text>
</g>
<g>
<rect x="86.90" y="252.40" width="32.00" height="22.43" fill="#f8e7dd"/>
<rect x="117.90" y="252.40" width="32.00" height="22.43" fill="#fbf6f1"/>
<rect x="148.90" y="252.40" width="32.00" height="22.43" fill="#f8ac91"/>
<rect x="179.90" y="252.40" width="32.00" height="22.43" fill="#f7b59b"/>
<rect x="210.90" y="252.40" width="32.00" height="22.43" fill="#f9d3c3"/>
<rect x="241.90" y="252.40" width="32.00" height="22.43" fill="#fcf9f5"/>
<rect x="272.90" y="252.40" width="32.00" height="22.43" fill="#fcf9f5"/>
<rect x="303.90" y="252.40" width="32.00" height="22.43" fill="#fcf9f5"/>
<rect x="334.90" y="252.40" width="32.00" height="22.43" fill="#700f1b"/>
<rect x="365.90" y="252.40" width="32.00" height="22.43" fill="#a51c22"/>
<rect x="396.90" y="252.40" width="32.00" height="22.43" fill="#fcf9f5"/>
<rect x="427.90" y="252.40" width="32.00" height="22.43" fill="#f9f2eb"/>
<rect x="458.90" y="252.40" width="32.00" height="22.43" fill="#f8e7dd"/>
<rect x="489.90" y="252.40" width="32.00" height="22.43" fill="#fb7e60"/>
<rect x="520.90" y="252.40" width="32.00" height="22.43" fill="#fcf9f5"/>
<rect x="551.90" y="252.40" width="32.00" height="22.43" fill="#fcf9f5"/>
<rect x="582.90" y="252.40" width="31.00" height="22.43" fill="#fbf6f1"/>
<rect x="86.90" y="273.83" width="32.00" height="22.43" fill="#fbf6f1"/>
<rect x="117.90" y="273.83" width="32.00" height="22.43" fill="#fbf6f1"/>
<rect x="148.90" y="273.83" width="32.00" height="22.43" fill="#f7eae1"/>
<rect x="179.90" y="273.83" width="32.00" height="22.43" fill="#f99c7f"/>
<rect x="210.90" y="273.83" width="32.00" height="22.43" fill="#f7b89f"/>
<rect x="241.90" y="273.83" width="32.00" height="22.43" fill="#fbf6f1"/>
<rect x="272.90" y="273.83" width="32.00" height="22.43" fill="#fcf9f5"/>
<rect x="303.90" y="273.83" width="32.00" height="22.43" fill="#fcf9f5"/>
<rect x="334.90" y="273.83" width="32.00" height="22.43" fill="#80131d"/>
<rect x="365.90" y="273.83" width="32.00" height="22.43" fill="#cd252a"/>
<rect x="396.90" y="273.83" width="32.00" height="22.43" fill="#fcf9f5"/>
<rect x="427.90" y="273.83" width="32.00" height="22.43" fill="#f7eae1"/>
<rect x="458.90" y="273.83" width="32.00" height="22.43" fill="#f9f2eb"/>
<rect x="489.90" y="273.83" width="32.00" height="22.43" fill="#f8e7dd"/>
<rect x="520.90" y="273.83" width="32.00" height="22.43" fill="#fcf9f5"/>
<rect x="551.90" y="273.83" width="32.00" height="22.43" fill="#fbf6f1"/>
<rect x="582.90" y="273.83" width="31.00" height="22.43" fill="#faf5f0"/>
<rect x="86.90" y="295.26" width="32.00" height="22.43" fill="#fbf6f1"/>
<rect x="117.90" y="295.26" width="32.00" height="22.43" fill="#f8f1ea"/>
<rect x="148.90" y="295.26" width="32.00" height="22.43" fill="#fa896b"/>
<rect x="179.90" y="295.26" width="32.00" height="22.43" fill="#f8c0a8"/>
<rect x="210.90" y="295.26" width="32.00" height="22.43" fill="#f7e4d9"/>
<rect x="241.90" y="295.26" width="32.00" height="22.43" fill="#f8ac91"/>
<rect x="272.90" y="295.26" width="32.00" height="22.43" fill="#f8d6c8"/>
<rect x="303.90" y="295.26" width="32.00" height="22.43" fill="#f8e7dd"/>
<rect x="334.90" y="295.26" width="32.00" height="22.43" fill="#f9d3c3"/>
<rect x="365.90" y="295.26" width="32.00" height="22.43" fill="#f7e4d9"/>
<rect x="396.90" y="295.26" width="32.00" height="22.43" fill="#f9f2eb"/>
<rect x="427.90" y="295.26" width="32.00" height="22.43" fill="#f9f2eb"/>
<rect x="458.90" y="295.26" width="32.00" height="22.43" fill="#fcf9f5"/>
<rect x="489.90" y="295.26" width="32.00" height="22.43" fill="#fbf6f1"/>
<rect x="520.90" y="295.26" width="32.00" height="22.43" fill="#fcf9f5"/>
<rect x="551.90" y="295.26" width="32.00" height="22.43" fill="#fcf9f5"/>
<rect x="582.90" y="295.26" width="31.00" height="22.43" fill="#fbf6f1"/>
<rect x="86.90" y="316.69" width="32.00" height="22.43" fill="#fcf9f5"/>
<rect x="117.90" y="316.69" width="32.00" height="22.43" fill="#fcf9f5"/>
<rect x="148.90" y="316.69" width="32.00" height="22.43" fill="#fbf6f1"/>
<rect x="179.90" y="316.69" width="32.00" height="22.43" fill="#f8e7dd"/>
<rect x="210.90" y="316.69" width="32.00" height="22.43" fill="#f8e7dd"/>
<rect x="241.90" y="316.69" width="32.00" height="22.43" fill="#fcf9f5"/>
<rect x="272.90" y="316.69" width="32.00" height="22.43" fill="#fcf9f5"/>
<rect x="303.90" y="316.69" width="32.00" height="22.43" fill="#fcf9f5"/>
<rect x="334.90" y="316.69" width="32.00" height="22.43" fill="#f8eee5"/>
<rect x="365.90" y="316.69" width="32.00" height="22.43" fill="#f8f1ea"/>
<rect x="396.90" y="316.69" width="32.00" height="22.43" fill="#fcf9f5"/>
<rect x="427.90" y="316.69" width="32.00" height="22.43" fill="#fbf6f1"/>
<rect x="458.90" y="316.69" width="32.00" height="22.43" fill="#fbf6f1"/>
<rect x="489.90" y="316.69" width="32.00" height="22.43" fill="#fbf6f1"/>
<rect x="520.90" y="316.69" width="32.00" height="22.43" fill="#fcf9f5"/>
<rect x="551.90" y="316.69" width="32.00" height="22.43" fill="#fcf9f5"/>
<rect x="582.90" y="316.69" width="31.00" height="22.43" fill="#fcf9f5"/>
<rect x="86.90" y="338.12" width="32.00" height="22.43" fill="#faf5f0"/>
<rect x="117.90" y="338.12" width="32.00" height="22.43" fill="#fcf9f5"/>
<rect x="148.90" y="338.12" width="32.00" height="22.43" fill="#f8eee5"/>
<rect x="179.90" y="338.12" width="32.00" height="22.43" fill="#f7e5db"/>
<rect x="210.90" y="338.12" width="32.00" height="22.43" fill="#f8e7dd"/>
<rect x="241.90" y="338.12" width="32.00" height="22.43" fill="#fbf6f1"/>
<rect x="272.90" y="338.12" width="32.00" height="22.43" fill="#f7eae1"/>
<rect x="303.90" y="338.12" width="32.00" height="22.43" fill="#f9f2eb"/>
<rect x="334.90" y="338.12" width="32.00" height="22.43" fill="#f8f1ea"/>
<rect x="365.90" y="338.12" width="32.00" height="22.43" fill="#f8f1ea"/>
<rect x="396.90" y="338.12" width="32.00" height="22.43" fill="#f7e9de"/>
<rect x="427.90" y="338.12" width="32.00" height="22.43" fill="#f7e9de"/>
<rect x="458.90" y="338.12" width="32.00" height="22.43" fill="#f8efe7"/>
<rect x="489.90" y="338.12" width="32.00" height="22.43" fill="#f7e4d9"/>
<rect x="520.90" y="338.12" width="32.00" height="22.43" fill="#fcf9f5"/>
<rect x="551.90" y="338.12" width="32.00" height="22.43" fill="#fcf9f5"/>
<rect x="582.90" y="338.12" width="31.00" height="22.43" fill="#fcf9f5"/>
<rect x="86.90" y="359.55" width="32.00" height="22.43" fill="#f8efe7"/>
<rect x="117.90" y="359.55" width="32.00" height="22.43" fill="#fbf6f1"/>
<rect x="148.90" y="359.55" width="32.00" height="22.43" fill="#faf5f0"/>
<rect x="179.90" y="359.55" width="32.00" height="22.43" fill="#f9d3c3"/>
<rect x="210.90" y="359.55" width="32.00" height="22.43" fill="#f8ddd1"/>
<rect x="241.90" y="359.55" width="32.00" height="22.43" fill="#f8efe7"/>
<rect x="272.90" y="359.55" width="32.00" height="22.43" fill="#f7bda5"/>
<rect x="303.90" y="359.55" width="32.00" height="22.43" fill="#f9f2eb"/>
<rect x="334.90" y="359.55" width="32.00" height="22.43" fill="#fa896b"/>
<rect x="365.90" y="359.55" width="32.00" height="22.43" fill="#fa8769"/>
<rect x="396.90" y="359.55" width="32.00" height="22.43" fill="#fcf9f5"/>
<rect x="427.90" y="359.55" width="32.00" height="22.43" fill="#faf5f0"/>
<rect x="458.90" y="359.55" width="32.00" height="22.43" fill="#f9f2eb"/>
<rect x="489.90" y="359.55" width="32.00" height="22.43" fill="#f8f1ea"/>
<rect x="520.90" y="359.55" width="32.00" height="22.43" fill="#f7eae1"/>
<rect x="551.90" y="359.55" width="32.00" height="22.43" fill="#f8ece3"/>
<rect x="582.90" y="359.55" width="31.00" height="22.43" fill="#faf5f0"/>
<rect x="86.90" y="380.98" width="32.00" height="22.43" fill="#fbf6f1"/>
<rect x="117.90" y="380.98" width="32.00" height="22.43" fill="#fcf9f5"/>
<rect x="148.90" y="380.98" width="32.00" height="22.43" fill="#f35441"/>
<rect x="179.90" y="380.98" width="32.00" height="22.43" fill="#f7e4d9"/>
<rect x="210.90" y="380.98" width="32.00" height="22.43" fill="#f7e2d6"/>
<rect x="241.90" y="380.98" width="32.00" height="22.43" fill="#f7eae1"/>
<rect x="272.90" y="380.98" width="32.00" height="22.43" fill="#fa896b"/>
<rect x="303.90" y="380.98" width="32.00" height="22.43" fill="#f9f2eb"/>
<rect x="334.90" y="380.98" width="32.00" height="22.43" fill="#f8cbb9"/>
<rect x="365.90" y="380.98" width="32.00" height="22.43" fill="#f8d6c8"/>
<rect x="396.90" y="380.98" width="32.00" height="22.43" fill="#f7eae1"/>
<rect x="427.90" y="380.98" width="32.00" height="22.43" fill="#f8d6c8"/>
<rect x="458.90" y="380.98" width="32.00" height="22.43" fill="#f7b89f"/>
<rect x="489.90" y="380.98" width="32.00" height="22.43" fill="#fb7254"/>
<rect x="520.90" y="380.98" width="32.00" height="22.43" fill="#fcf9f5"/>
<rect x="551.90" y="380.98" width="32.00" height="22.43" fill="#f7eae1"/>
<rect x="582.90" y="380.98" width="31.00" height="22.43" fill="#faf5f0"/>
<rect x="86.90" y="402.41" width="32.00" height="22.43" fill="#fcf9f5"/>
<rect x="117.90" y="402.41" width="32.00" height="22.43" fill="#faf5f0"/>
<rect x="148.90" y="402.41" width="32.00" height="22.43" fill="#f7c2ab"/>
<rect x="179.90" y="402.41" width="32.00" height="22.43" fill="#f8ddd1"/>
<rect x="210.90" y="402.41" width="32.00" height="22.43" fill="#faf5f0"/>
<rect x="241.90" y="402.41" width="32.00" height="22.43" fill="#f7e9de"/>
<rect x="272.90" y="402.41" width="32.00" height="22.43" fill="#f99274"/>
<rect x="303.90" y="402.41" width="32.00" height="22.43" fill="#f8f1ea"/>
<rect x="334.90" y="402.41" width="32.00" height="22.43" fill="#f9684e"/>
<rect x="365.90" y="402.41" width="32.00" height="22.43" fill="#fb7e60"/>
<rect x="396.90" y="402.41" width="32.00" height="22.43" fill="#f8d6c8"/>
<rect x="427.90" y="402.41" width="32.00" height="22.43" fill="#f7e5db"/>
<rect x="458.90" y="402.41" width="32.00" height="22.43" fill="#f9d3c3"/>
<rect x="489.90" y="402.41" width="32.00" height="22.43" fill="#f8d6c8"/>
<rect x="520.90" y="402.41" width="32.00" height="22.43" fill="#f8d1bf"/>
<rect x="551.90" y="402.41" width="32.00" height="22.43" fill="#fcf9f5"/>
<rect x="582.90" y="402.41" width="31.00" height="22.43" fill="#f8c6b0"/>
<rect x="86.90" y="423.84" width="32.00" height="22.43" fill="#fcf9f5"/>
<rect x="117.90" y="423.84" width="32.00" height="22.43" fill="#f8eee5"/>
<rect x="148.90" y="423.84" width="32.00" height="22.43" fill="#f7e5db"/>
<rect x="179.90" y="423.84" width="32.00" height="22.43" fill="#f8cbb9"/>
<rect x="210.90" y="423.84" width="32.00" height="22.43" fill="#f7e5db"/>
<rect x="241.90" y="423.84" width="32.00" height="22.43" fill="#f7e2d6"/>
<rect x="272.90" y="423.84" width="32.00" height="22.43" fill="#f8d9cc"/>
<rect x="303.90" y="423.84" width="32.00" height="22.43" fill="#f8d1bf"/>
<rect x="334.90" y="423.84" width="32.00" height="22.43" fill="#f7e2d6"/>
<rect x="365.90" y="423.84" width="32.00" height="22.43" fill="#f9cdbb"/>
<rect x="396.90" y="423.84" width="32.00" height="22.43" fill="#f8ddd1"/>
<rect x="427.90" y="423.84" width="32.00" height="22.43" fill="#f7eae1"/>
<rect x="458.90" y="423.84" width="32.00" height="22.43" fill="#f8ddd1"/>
<rect x="489.90" y="423.84" width="32.00" height="22.43" fill="#f7e5db"/>
<rect x="520.90" y="423.84" width="32.00" height="22.43" fill="#fcf9f5"/>
<rect x="551.90" y="423.84" width="32.00" height="22.43" fill="#faf5f0"/>
<rect x="582.90" y="423.84" width="31.00" height="22.43" fill="#f8d1bf"/>
<rect x="86.90" y="445.27" width="32.00" height="21.43" fill="#f9f2eb"/>
<rect x="117.90" y="445.27" width="32.00" height="21.43" fill="#f7e9de"/>
<rect x="148.90" y="445.27" width="32.00" height="21.43" fill="#f7e9de"/>
<rect x="179.90" y="445.27" width="32.00" height="21.43" fill="#f8eee5"/>
<rect x="210.90" y="445.27" width="32.00" height="21.43" fill="#f8efe7"/>
<rect x="241.90" y="445.27" width="32.00" height="21.43" fill="#f8efe7"/>
<rect x="272.90" y="445.27" width="32.00" height="21.43" fill="#fcf9f5"/>
<rect x="303.90" y="445.27" width="32.00" height="21.43" fill="#f8ddd1"/>
<rect x="334.90" y="445.27" width="32.00" height="21.43" fill="#e03732"/>
<rect x="365.90" y="445.27" width="32.00" height="21.43" fill="#f55a45"/>
<rect x="396.90" y="445.27" width="32.00" height="21.43" fill="#f8f1ea"/>
<rect x="427.90" y="445.27" width="32.00" height="21.43" fill="#f7eae1"/>
<rect x="458.90" y="445.27" width="32.00" height="21.43" fill="#faf5f0"/>
<rect x="489.90" y="445.27" width="32.00" height="21.43" fill="#fbf6f1"/>
<rect x="520.90" y="445.27" width="32.00" height="21.43" fill="#f8c0a8"/>
<rect x="551.90" y="445.27" width="32.00" height="21.43" fill="#faf5f0"/>
<rect x="582.90" y="445.27" width="31.00" height="21.43" fill="#fcf9f5"/>
<text x="102.40" y="266.42" font-size="13.54" text-anchor="middle" fill="#333333" stroke="#333333" textLength="14.66" lengthAdjust="spacingAndGlyphs">10</text>
<text x="133.40" y="266.42" font-size="13.54" text-anchor="middle" fill="#333333" stroke="#333333" textLength="6.72" lengthAdjust="spacingAndGlyphs">1</text>
<text x="164.40" y="266.42" font-size="13.54" text-anchor="middle" fill="#333333" stroke="#333333" textLength="14.26" lengthAdjust="spacingAndGlyphs">32</text>
<text x="195.40" y="266.42" font-size="13.54" text-anchor="middle" fill="#333333" stroke="#333333" textLength="14.82" lengthAdjust="spacingAndGlyphs">29</text>
<text x="226.40" y="266.42" font-size="13.54" text-anchor="middle" fill="#333333" stroke="#333333" textLength="14.72" lengthAdjust="spacingAndGlyphs">18</text>
<text x="257.40" y="266.42" font-size="13.54" text-anchor="middle" fill="#333333" stroke="#333333" textLength="7.02" lengthAdjust="spacingAndGlyphs">0</text>
<text x="288.40" y="266.42" font-size="13.54" text-anchor="middle" fill="#333333" stroke="#333333" textLength="7.02" lengthAdjust="spacingAndGlyphs">0</text>
<text x="319.40" y="266.42" font-size="13.54" text-anchor="middle" fill="#333333" stroke="#333333" textLength="7.02" lengthAdjust="spacingAndGlyphs">0</text>
<text x="350.40" y="266.42" font-size="13.54" text-anchor="middle" fill="#ffffff" stroke="#ffffff" textLength="22.30" lengthAdjust="spacingAndGlyphs">104</text>
<text x="381.40" y="266.42" font-size="13.54" text-anchor="middle" fill="#ffffff" stroke="#ffffff" textLength="14.56" lengthAdjust="spacingAndGlyphs">92</text>
<text x="412.40" y="266.42" font-size="13.54" text-anchor="middle" fill="#333333" stroke="#333333" textLength="7.02" lengthAdjust="spacingAndGlyphs">0</text>
<text x="443.40" y="266.42" font-size="13.54" text-anchor="middle" fill="#333333" stroke="#333333" textLength="6.74" lengthAdjust="spacingAndGlyphs">3</text>
<text x="474.40" y="266.42" font-size="13.54" text-anchor="middle" fill="#333333" stroke="#333333" textLength="14.66" lengthAdjust="spacingAndGlyphs">10</text>
<text x="505.40" y="266.42" font-size="13.54" text-anchor="middle" fill="#ffffff" stroke="#ffffff" textLength="14.73" lengthAdjust="spacingAndGlyphs">48</text>
<text x="536.40" y="266.42" font-size="13.54" text-anchor="middle" fill="#333333" stroke="#333333" textLength="7.02" lengthAdjust="spacingAndGlyphs">0</text>
<text x="567.40" y="266.42" font-size="13.54" text-anchor="middle" fill="#333333" stroke="#333333" textLength="7.02" lengthAdjust="spacingAndGlyphs">0</text>
<text x="598.40" y="266.42" font-size="13.54" text-anchor="middle" fill="#333333" stroke="#333333" textLength="6.72" lengthAdjust="spacingAndGlyphs">1</text>
<text x="102.40" y="287.85" font-size="13.54" text-anchor="middle" fill="#333333" stroke="#333333" textLength="6.72" lengthAdjust="spacingAndGlyphs">1</text>
<text x="133.40" y="287.85" font-size="13.54" text-anchor="middle" fill="#333333" stroke="#333333" textLength="6.72" lengthAdjust="spacingAndGlyphs">1</text>
<text x="164.40" y="287.85" font-size="13.54" text-anchor="middle" fill="#333333" stroke="#333333" textLength="7.11" lengthAdjust="spacingAndGlyphs">8</text>
<text x="195.40" y="287.85" font-size="13.54" text-anchor="middle" fill="#333333" stroke="#333333" textLength="14.47" lengthAdjust="spacingAndGlyphs">37</text>
<text x="226.40" y="287.85" font-size="13.54" text-anchor="middle" fill="#333333" stroke="#333333" textLength="14.80" lengthAdjust="spacingAndGlyphs">28</text>
<text x="257.40" y="287.85" font-size="13.54" text-anchor="middle" fill="#333333" stroke="#333333" textLength="6.72" lengthAdjust="spacingAndGlyphs">1</text>
<text x="288.40" y="287.85" font-size="13.54" text-anchor="middle" fill="#333333" stroke="#333333" textLength="7.02" lengthAdjust="spacingAndGlyphs">0</text>
<text x="319.40" y="287.85" font-size="13.54" text-anchor="middle" fill="#333333" stroke="#333333" textLength="7.02" lengthAdjust="spacingAndGlyphs">0</text>
<text x="350.40" y="287.85" font-size="13.54" text-anchor="middle" fill="#ffffff" stroke="#ffffff" textLength="22.30" lengthAdjust="spacingAndGlyphs">100</text>
<text x="381.40" y="287.85" font-size="13.54" text-anchor="middle" fill="#ffffff" stroke="#ffffff" textLength="14.72" lengthAdjust="spacingAndGlyphs">78</text>
<text x="412.40" y="287.85" font-size="13.54" text-anchor="middle" fill="#333333" stroke="#333333" textLength="7.02" lengthAdjust="spacingAndGlyphs">0</text>
<text x="443.40" y="287.85" font-size="13.54" text-anchor="middle" fill="#333333" stroke="#333333" textLength="7.11" lengthAdjust="spacingAndGlyphs">8</text>
<text x="474.40" y="287.85" font-size="13.54" text-anchor="middle" fill="#333333" stroke="#333333" textLength="6.74" lengthAdjust="spacingAndGlyphs">3</text>
<text x="505.40" y="287.85" font-size="13.54" text-anchor="middle" fill="#333333" stroke="#333333" textLength="14.66" lengthAdjust="spacingAndGlyphs">10</text>
<text x="536.40" y="287.85" font-size="13.54" text-anchor="middle" fill="#333333" stroke="#333333" textLength="7.02" lengthAdjust="spacingAndGlyphs">0</text>
<text x="567.40" y="287.85" font-size="13.54" text-anchor="middle" fill="#333333" stroke="#333333" textLength="6.72" lengthAdjust="spacingAndGlyphs">1</text>
<text x="598.40" y="287.85" font-size="13.54" text-anchor="middle" fill="#333333" stroke="#333333" textLength="6.77" lengthAdjust="spacingAndGlyphs">2</text>
<text x="102.40" y="309.28" font-size="13.54" text-anchor="middle" fill="#333333" stroke="#333333" textLength="6.72" lengthAdjust="spacingAndGlyphs">1</text>
<text x="133.40" y="309.28" font-size="13.54" text-anchor="middle" fill="#333333" stroke="#333333" textLength="7.02" lengthAdjust="spacingAndGlyphs">4</text>
<text x="164.40" y="309.28" font-size="13.54" text-anchor="middle" fill="#ffffff" stroke="#ffffff" textLength="14.67" lengthAdjust="spacingAndGlyphs">44</text>
<text x="195.40" y="309.28" font-size="13.54" text-anchor="middle" fill="#333333" stroke="#333333" textLength="14.54" lengthAdjust="spacingAndGlyphs">25</text>
<text x="226.40" y="309.28" font-size="13.54" text-anchor="middle" fill="#333333" stroke="#333333" textLength="14.37" lengthAdjust="spacingAndGlyphs">12</text>
<text x="257.40" y="309.28" font-size="13.54" text-anchor="middle" fill="#333333" stroke="#333333" textLength="14.26" lengthAdjust="spacingAndGlyphs">32</text>
<text x="288.40" y="309.28" font-size="13.54" text-anchor="middle" fill="#333333" stroke="#333333" textLength="14.59" lengthAdjust="spacingAndGlyphs">17</text>
<text x="319.40" y="309.28" font-size="13.54" text-anchor="middle" fill="#333333" stroke="#333333" textLength="14.66" lengthAdjust="spacingAndGlyphs">10</text>
<text x="350.40" y="309.28" font-size="13.54" text-anchor="middle" fill="#333333" stroke="#333333" textLength="14.72" lengthAdjust="spacingAndGlyphs">18</text>
<text x="381.40" y="309.28" font-size="13.54" text-anchor="middle" fill="#333333" stroke="#333333" textLength="14.37" lengthAdjust="spacingAndGlyphs">12</text>
<text x="412.40" y="309.28" font-size="13.54" text-anchor="middle" fill="#333333" stroke="#333333" textLength="6.74" lengthAdjust="spacingAndGlyphs">3</text>
<text x="443.40" y="309.28" font-size="13.54" text-anchor="middle" fill="#333333" stroke="#333333" textLength="6.74" lengthAdjust="spacingAndGlyphs">3</text>
<text x="474.40" y="309.28" font-size="13.54" text-anchor="middle" fill="#333333" stroke="#333333" textLength="7.02" lengthAdjust="spacingAndGlyphs">0</text>
<text x="505.40" y="309.28" font-size="13.54" text-anchor="middle" fill="#333333" stroke="#333333" textLength="6.72" lengthAdjust="spacingAndGlyphs">1</text>
<text x="536.40" y="309.28" font-size="13.54" text-anchor="middle" fill="#333333" stroke="#333333" textLength="7.02" lengthAdjust="spacingAndGlyphs">0</text>
<text x="567.40" y="309.28" font-size="13.54" text-anchor="middle" fill="#333333" stroke="#333333" textLength="7.02" lengthAdjust="spacingAndGlyphs">0</text>
<text x="598.40" y="309.28" font-size="13.54" text-anchor="middle" fill="#333333" stroke="#333333" textLength="6.72" lengthAdjust="spacingAndGlyphs">1</text>
<text x="102.40" y="330.70" font-size="13.54" text-anchor="middle" fill="#333333" stroke="#333333" textLength="7.02" lengthAdjust="spacingAndGlyphs">0</text>
<text x="133.40" y="330.70" font-size="13.54" text-anchor="middle" fill="#333333" stroke="#333333" textLength="7.02" lengthAdjust="spacingAndGlyphs">0</text>
<text x="164.40" y="330.70" font-size="13.54" text-anchor="middle" fill="#333333" stroke="#333333" textLength="6.72" lengthAdjust="spacingAndGlyphs">1</text>
<text x="195.40" y="330.70" font-size="13.54" text-anchor="middle" fill="#333333" stroke="#333333" textLength="14.66" lengthAdjust="spacingAndGlyphs">10</text>
<text x="226.40" y="330.70" font-size="13.54" text-anchor="middle" fill="#333333" stroke="#333333" textLength="14.66" lengthAdjust="spacingAndGlyphs">10</text>
<text x="257.40" y="330.70" font-size="13.54" text-anchor="middle" fill="#333333" stroke="#333333" textLength="7.02" lengthAdjust="spacingAndGlyphs">0</text>
<text x="288.40" y="330.70" font-size="13.54" text-anchor="middle" fill="#333333" stroke="#333333" textLength="7.02" lengthAdjust="spacingAndGlyphs">0</text>
<text x="319.40" y="330.70" font-size="13.54" text-anchor="middle" fill="#333333" stroke="#333333" textLength="7.02" lengthAdjust="spacingAndGlyphs">0</text>
<text x="350.40" y="330.70" font-size="13.54" text-anchor="middle" fill="#333333" stroke="#333333" textLength="7.28" lengthAdjust="spacingAndGlyphs">6</text>
<text x="381.40" y="330.70" font-size="13.54" text-anchor="middle" fill="#333333" stroke="#333333" textLength="7.02" lengthAdjust="spacingAndGlyphs">4</text>
<text x="412.40" y="330.70" font-size="13.54" text-anchor="middle" fill="#333333" stroke="#333333" textLength="7.02" lengthAdjust="spacingAndGlyphs">0</text>
<text x="443.40" y="330.70" font-size="13.54" text-anchor="middle" fill="#333333" stroke="#333333" textLength="6.72" lengthAdjust="spacingAndGlyphs">1</text>
<text x="474.40" y="330.70" font-size="13.54" text-anchor="middle" fill="#333333" stroke="#333333" textLength="6.72" lengthAdjust="spacingAndGlyphs">1</text>
<text x="505.40" y="330.70" font-size="13.54" text-anchor="middle" fill="#333333" stroke="#333333" textLength="6.72" lengthAdjust="spacingAndGlyphs">1</text>
<text x="536.40" y="330.70" font-size="13.54" text-anchor="middle" fill="#333333" stroke="#333333" textLength="7.02" lengthAdjust="spacingAndGlyphs">0</text>
<text x="567.40" y="330.70" font-size="13.54" text-anchor="middle" fill="#333333" stroke="#333333" textLength="7.02" lengthAdjust="spacingAndGlyphs">0</text>
<text x="598.40" y="330.70" font-size="13.54" text-anchor="middle" fill="#333333" stroke="#333333" textLength="7.02" lengthAdjust="spacingAndGlyphs">0</text>
<text x="102.40" y="352.14" font-size="13.54" text-anchor="middle" fill="#333333" stroke="#333333" textLength="6.77" lengthAdjust="spacingAndGlyphs">2</text>
<text x="133.40" y="352.14" font-size="13.54" text-anchor="middle" fill="#333333" stroke="#333333" textLength="7.02" lengthAdjust="spacingAndGlyphs">0</text>
<text x="164.40" y="352.14" font-size="13.54" text-anchor="middle" fill="#333333" stroke="#333333" textLength="7.28" lengthAdjust="spacingAndGlyphs">6</text>
<text x="195.40" y="352.14" font-size="13.54" text-anchor="middle" fill="#333333" stroke="#333333" textLength="14.60" lengthAdjust="spacingAndGlyphs">11</text>
<text x="226.40" y="352.14" font-size="13.54" text-anchor="middle" fill="#333333" stroke="#333333" textLength="14.66" lengthAdjust="spacingAndGlyphs">10</text>
<text x="257.40" y="352.14" font-size="13.54" text-anchor="middle" fill="#333333" stroke="#333333" textLength="6.72" lengthAdjust="spacingAndGlyphs">1</text>
<text x="288.40" y="352.14" font-size="13.54" text-anchor="middle" fill="#333333" stroke="#333333" textLength="7.11" lengthAdjust="spacingAndGlyphs">8</text>
<text x="319.40" y="352.14" font-size="13.54" text-anchor="middle" fill="#333333" stroke="#333333" textLength="6.74" lengthAdjust="spacingAndGlyphs">3</text>
<text x="350.40" y="352.14" font-size="13.54" text-anchor="middle" fill="#333333" stroke="#333333" textLength="7.02" lengthAdjust="spacingAndGlyphs">4</text>
<text x="381.40" y="352.14" font-size="13.54" text-anchor="middle" fill="#333333" stroke="#333333" textLength="7.02" lengthAdjust="spacingAndGlyphs">4</text>
<text x="412.40" y="352.14" font-size="13.54" text-anchor="middle" fill="#333333" stroke="#333333" textLength="7.25" lengthAdjust="spacingAndGlyphs">9</text>
<text x="443.40" y="352.14" font-size="13.54" text-anchor="middle" fill="#333333" stroke="#333333" textLength="7.25" lengthAdjust="spacingAndGlyphs">9</text>
<text x="474.40" y="352.14" font-size="13.54" text-anchor="middle" fill="#333333" stroke="#333333" textLength="6.64" lengthAdjust="spacingAndGlyphs">5</text>
<text x="505.40" y="352.14" font-size="13.54" text-anchor="middle" fill="#333333" stroke="#333333" textLength="14.37" lengthAdjust="spacingAndGlyphs">12</text>
<text x="536.40" y="352.14" font-size="13.54" text-anchor="middle" fill="#333333" stroke="#333333" textLength="7.02" lengthAdjust="spacingAndGlyphs">0</text>
<text x="567.40" y="352.14" font-size="13.54" text-anchor="middle" fill="#333333" stroke="#333333" textLength="7.02" lengthAdjust="spacingAndGlyphs">0</text>
<text x="598.40" y="352.14" font-size="13.54" text-anchor="middle" fill="#333333" stroke="#333333" textLength="7.02" lengthAdjust="spacingAndGlyphs">0</text>
<text x="102.40" y="373.56" font-size="13.54" text-anchor="middle" fill="#333333" stroke="#333333" textLength="6.64" lengthAdjust="spacingAndGlyphs">5</text>
<text x="133.40" y="373.56" font-size="13.54" text-anchor="middle" fill="#333333" stroke="#333333" textLength="6.72" lengthAdjust="spacingAndGlyphs">1</text>
<text x="164.40" y="373.56" font-size="13.54" text-anchor="middle" fill="#333333" stroke="#333333" textLength="6.77" lengthAdjust="spacingAndGlyphs">2</text>
<text x="195.40" y="373.56" font-size="13.54" text-anchor="middle" fill="#333333" stroke="#333333" textLength="14.72" lengthAdjust="spacingAndGlyphs">18</text>
<text x="226.40" y="373.56" font-size="13.54" text-anchor="middle" fill="#333333" stroke="#333333" textLength="14.44" lengthAdjust="spacingAndGlyphs">15</text>
<text x="257.40" y="373.56" font-size="13.54" text-anchor="middle" fill="#333333" stroke="#333333" textLength="6.64" lengthAdjust="spacingAndGlyphs">5</text>
<text x="288.40" y="373.56" font-size="13.54" text-anchor="middle" fill="#333333" stroke="#333333" textLength="14.88" lengthAdjust="spacingAndGlyphs">26</text>
<text x="319.40" y="373.56" font-size="13.54" text-anchor="middle" fill="#333333" stroke="#333333" textLength="6.74" lengthAdjust="spacingAndGlyphs">3</text>
<text x="350.40" y="373.56" font-size="13.54" text-anchor="middle" fill="#ffffff" stroke="#ffffff" textLength="14.67" lengthAdjust="spacingAndGlyphs">44</text>
<text x="381.40" y="373.56" font-size="13.54" text-anchor="middle" fill="#ffffff" stroke="#ffffff" textLength="14.47" lengthAdjust="spacingAndGlyphs">45</text>
<text x="412.40" y="373.56" font-size="13.54" text-anchor="middle" fill="#333333" stroke="#333333" textLength="7.02" lengthAdjust="spacingAndGlyphs">0</text>
<text x="443.40" y="373.56" font-size="13.54" text-anchor="middle" fill="#333333" stroke="#333333" textLength="6.77" lengthAdjust="spacingAndGlyphs">2</text>
<text x="474.40" y="373.56" font-size="13.54" text-anchor="middle" fill="#333333" stroke="#333333" textLength="6.74" lengthAdjust="spacingAndGlyphs">3</text>
<text x="505.40" y="373.56" font-size="13.54" text-anchor="middle" fill="#333333" stroke="#333333" textLength="7.02" lengthAdjust="spacingAndGlyphs">4</text>
<text x="536.40" y="373.56" font-size="13.54" text-anchor="middle" fill="#333333" stroke="#333333" textLength="7.11" lengthAdjust="spacingAndGlyphs">8</text>
<text x="567.40" y="373.56" font-size="13.54" text-anchor="middle" fill="#333333" stroke="#333333" textLength="6.88" lengthAdjust="spacingAndGlyphs">7</text>
<text x="598.40" y="373.56" font-size="13.54" text-anchor="middle" fill="#333333" stroke="#333333" textLength="6.77" lengthAdjust="spacingAndGlyphs">2</text>
<text x="102.40" y="395.00" font-size="13.54" text-anchor="middle" fill="#333333" stroke="#333333" textLength="6.72" lengthAdjust="spacingAndGlyphs">1</text>
<text x="133.40" y="395.00" font-size="13.54" text-anchor="middle" fill="#333333" stroke="#333333" textLength="7.02" lengthAdjust="spacingAndGlyphs">0</text>
<text x="164.40" y="395.00" font-size="13.54" text-anchor="middle" fill="#ffffff" stroke="#ffffff" textLength="14.64" lengthAdjust="spacingAndGlyphs">61</text>
<text x="195.40" y="395.00" font-size="13.54" text-anchor="middle" fill="#333333" stroke="#333333" textLength="14.37" lengthAdjust="spacingAndGlyphs">12</text>
<text x="226.40" y="395.00" font-size="13.54" text-anchor="middle" fill="#333333" stroke="#333333" textLength="14.55" lengthAdjust="spacingAndGlyphs">13</text>
<text x="257.40" y="395.00" font-size="13.54" text-anchor="middle" fill="#333333" stroke="#333333" textLength="7.11" lengthAdjust="spacingAndGlyphs">8</text>
<text x="288.40" y="395.00" font-size="13.54" text-anchor="middle" fill="#ffffff" stroke="#ffffff" textLength="14.67" lengthAdjust="spacingAndGlyphs">44</text>
<text x="319.40" y="395.00" font-size="13.54" text-anchor="middle" fill="#333333" stroke="#333333" textLength="6.74" lengthAdjust="spacingAndGlyphs">3</text>
<text x="350.40" y="395.00" font-size="13.54" text-anchor="middle" fill="#333333" stroke="#333333" textLength="14.57" lengthAdjust="spacingAndGlyphs">21</text>
<text x="381.40" y="395.00" font-size="13.54" text-anchor="middle" fill="#333333" stroke="#333333" textLength="14.59" lengthAdjust="spacingAndGlyphs">17</text>
<text x="412.40" y="395.00" font-size="13.54" text-anchor="middle" fill="#333333" stroke="#333333" textLength="7.11" lengthAdjust="spacingAndGlyphs">8</text>
<text x="443.40" y="395.00" font-size="13.54" text-anchor="middle" fill="#333333" stroke="#333333" textLength="14.59" lengthAdjust="spacingAndGlyphs">17</text>
<text x="474.40" y="395.00" font-size="13.54" text-anchor="middle" fill="#333333" stroke="#333333" textLength="14.80" lengthAdjust="spacingAndGlyphs">28</text>
<text x="505.40" y="395.00" font-size="13.54" text-anchor="middle" fill="#ffffff" stroke="#ffffff" textLength="14.29" lengthAdjust="spacingAndGlyphs">52</text>
<text x="536.40" y="395.00" font-size="13.54" text-anchor="middle" fill="#333333" stroke="#333333" textLength="7.02" lengthAdjust="spacingAndGlyphs">0</text>
<text x="567.40" y="395.00" font-size="13.54" text-anchor="middle" fill="#333333" stroke="#333333" textLength="7.11" lengthAdjust="spacingAndGlyphs">8</text>
<text x="598.40" y="395.00" font-size="13.54" text-anchor="middle" fill="#333333" stroke="#333333" textLength="6.77" lengthAdjust="spacingAndGlyphs">2</text>
<text x="102.40" y="416.43" font-size="13.54" text-anchor="middle" fill="#333333" stroke="#333333" textLength="7.02" lengthAdjust="spacingAndGlyphs">0</text>
<text x="133.40" y="416.43" font-size="13.54" text-anchor="middle" fill="#333333" stroke="#333333" textLength="6.77" lengthAdjust="spacingAndGlyphs">2</text>
<text x="164.40" y="416.43" font-size="13.54" text-anchor="middle" fill="#333333" stroke="#333333" textLength="14.74" lengthAdjust="spacingAndGlyphs">24</text>
<text x="195.40" y="416.43" font-size="13.54" text-anchor="middle" fill="#333333" stroke="#333333" textLength="14.44" lengthAdjust="spacingAndGlyphs">15</text>
<text x="226.40" y="416.43" font-size="13.54" text-anchor="middle" fill="#333333" stroke="#333333" textLength="6.77" lengthAdjust="spacingAndGlyphs">2</text>
<text x="257.40" y="416.43" font-size="13.54" text-anchor="middle" fill="#333333" stroke="#333333" textLength="7.25" lengthAdjust="spacingAndGlyphs">9</text>
<text x="288.40" y="416.43" font-size="13.54" text-anchor="middle" fill="#ffffff" stroke="#ffffff" textLength="14.50" lengthAdjust="spacingAndGlyphs">41</text>
<text x="319.40" y="416.43" font-size="13.54" text-anchor="middle" fill="#333333" stroke="#333333" textLength="7.02" lengthAdjust="spacingAndGlyphs">4</text>
<text x="350.40" y="416.43" font-size="13.54" text-anchor="middle" fill="#ffffff" stroke="#ffffff" textLength="14.36" lengthAdjust="spacingAndGlyphs">55</text>
<text x="381.40" y="416.43" font-size="13.54" text-anchor="middle" fill="#ffffff" stroke="#ffffff" textLength="14.73" lengthAdjust="spacingAndGlyphs">48</text>
<text x="412.40" y="416.43" font-size="13.54" text-anchor="middle" fill="#333333" stroke="#333333" textLength="14.59" lengthAdjust="spacingAndGlyphs">17</text>
<text x="443.40" y="416.43" font-size="13.54" text-anchor="middle" fill="#333333" stroke="#333333" textLength="14.60" lengthAdjust="spacingAndGlyphs">11</text>
<text x="474.40" y="416.43" font-size="13.54" text-anchor="middle" fill="#333333" stroke="#333333" textLength="14.72" lengthAdjust="spacingAndGlyphs">18</text>
<text x="505.40" y="416.43" font-size="13.54" text-anchor="middle" fill="#333333" stroke="#333333" textLength="14.59" lengthAdjust="spacingAndGlyphs">17</text>
<text x="536.40" y="416.43" font-size="13.54" text-anchor="middle" fill="#333333" stroke="#333333" textLength="14.73" lengthAdjust="spacingAndGlyphs">19</text>
<text x="567.40" y="416.43" font-size="13.54" text-anchor="middle" fill="#333333" stroke="#333333" textLength="7.02" lengthAdjust="spacingAndGlyphs">0</text>
<text x="598.40" y="416.43" font-size="13.54" text-anchor="middle" fill="#333333" stroke="#333333" textLength="14.64" lengthAdjust="spacingAndGlyphs">23</text>
<text x="102.40" y="437.86" font-size="13.54" text-anchor="middle" fill="#333333" stroke="#333333" textLength="7.02" lengthAdjust="spacingAndGlyphs">0</text>
<text x="133.40" y="437.86" font-size="13.54" text-anchor="middle" fill="#333333" stroke="#333333" textLength="7.28" lengthAdjust="spacingAndGlyphs">6</text>
<text x="164.40" y="437.86" font-size="13.54" text-anchor="middle" fill="#333333" stroke="#333333" textLength="14.60" lengthAdjust="spacingAndGlyphs">11</text>
<text x="195.40" y="437.86" font-size="13.54" text-anchor="middle" fill="#333333" stroke="#333333" textLength="14.57" lengthAdjust="spacingAndGlyphs">21</text>
<text x="226.40" y="437.86" font-size="13.54" text-anchor="middle" fill="#333333" stroke="#333333" textLength="14.60" lengthAdjust="spacingAndGlyphs">11</text>
<text x="257.40" y="437.86" font-size="13.54" text-anchor="middle" fill="#333333" stroke="#333333" textLength="14.55" lengthAdjust="spacingAndGlyphs">13</text>
<text x="288.40" y="437.86" font-size="13.54" text-anchor="middle" fill="#333333" stroke="#333333" textLength="14.80" lengthAdjust="spacingAndGlyphs">16</text>
<text x="319.40" y="437.86" font-size="13.54" text-anchor="middle" fill="#333333" stroke="#333333" textLength="14.73" lengthAdjust="spacingAndGlyphs">19</text>
<text x="350.40" y="437.86" font-size="13.54" text-anchor="middle" fill="#333333" stroke="#333333" textLength="14.55" lengthAdjust="spacingAndGlyphs">13</text>
<text x="381.40" y="437.86" font-size="13.54" text-anchor="middle" fill="#333333" stroke="#333333" textLength="14.75" lengthAdjust="spacingAndGlyphs">20</text>
<text x="412.40" y="437.86" font-size="13.54" text-anchor="middle" fill="#333333" stroke="#333333" textLength="14.44" lengthAdjust="spacingAndGlyphs">15</text>
<text x="443.40" y="437.86" font-size="13.54" text-anchor="middle" fill="#333333" stroke="#333333" textLength="7.11" lengthAdjust="spacingAndGlyphs">8</text>
<text x="474.40" y="437.86" font-size="13.54" text-anchor="middle" fill="#333333" stroke="#333333" textLength="14.44" lengthAdjust="spacingAndGlyphs">15</text>
<text x="505.40" y="437.86" font-size="13.54" text-anchor="middle" fill="#333333" stroke="#333333" textLength="14.60" lengthAdjust="spacingAndGlyphs">11</text>
<text x="536.40" y="437.86" font-size="13.54" text-anchor="middle" fill="#333333" stroke="#333333" textLength="7.02" lengthAdjust="spacingAndGlyphs">0</text>
<text x="567.40" y="437.86" font-size="13.54" text-anchor="middle" fill="#333333" stroke="#333333" textLength="6.77" lengthAdjust="spacingAndGlyphs">2</text>
<text x="598.40" y="437.86" font-size="13.54" text-anchor="middle" fill="#333333" stroke="#333333" textLength="14.73" lengthAdjust="spacingAndGlyphs">19</text>
<text x="102.40" y="459.29" font-size="13.54" text-anchor="middle" fill="#333333" stroke="#333333" textLength="6.74" lengthAdjust="spacingAndGlyphs">3</text>
<text x="133.40" y="459.29" font-size="13.54" text-anchor="middle" fill="#333333" stroke="#333333" textLength="7.25" lengthAdjust="spacingAndGlyphs">9</text>
<text x="164.40" y="459.29" font-size="13.54" text-anchor="middle" fill="#333333" stroke="#333333" textLength="7.25" lengthAdjust="spacingAndGlyphs">9</text>
<text x="195.40" y="459.29" font-size="13.54" text-anchor="middle" fill="#333333" stroke="#333333" textLength="7.28" lengthAdjust="spacingAndGlyphs">6</text>
<text x="226.40" y="459.29" font-size="13.54" text-anchor="middle" fill="#333333" stroke="#333333" textLength="6.64" lengthAdjust="spacingAndGlyphs">5</text>
<text x="257.40" y="459.29" font-size="13.54" text-anchor="middle" fill="#333333" stroke="#333333" textLength="6.64" lengthAdjust="spacingAndGlyphs">5</text>
<text x="288.40" y="459.29" font-size="13.54" text-anchor="middle" fill="#333333" stroke="#333333" textLength="7.02" lengthAdjust="spacingAndGlyphs">0</text>
<text x="319.40" y="459.29" font-size="13.54" text-anchor="middle" fill="#333333" stroke="#333333" textLength="14.44" lengthAdjust="spacingAndGlyphs">15</text>
<text x="350.40" y="459.29" font-size="13.54" text-anchor="middle" fill="#ffffff" stroke="#ffffff" textLength="14.48" lengthAdjust="spacingAndGlyphs">71</text>
<text x="381.40" y="459.29" font-size="13.54" text-anchor="middle" fill="#ffffff" stroke="#ffffff" textLength="14.64" lengthAdjust="spacingAndGlyphs">59</text>
<text x="412.40" y="459.29" font-size="13.54" text-anchor="middle" fill="#333333" stroke="#333333" textLength="7.02" lengthAdjust="spacingAndGlyphs">4</text>
<text x="443.40" y="459.29" font-size="13.54" text-anchor="middle" fill="#333333" stroke="#333333" textLength="7.11" lengthAdjust="spacingAndGlyphs">8</text>
<text x="474.40" y="459.29" font-size="13.54" text-anchor="middle" fill="#333333" stroke="#333333" textLength="6.77" lengthAdjust="spacingAndGlyphs">2</text>
<text x="505.40" y="459.29" font-size="13.54" text-anchor="middle" fill="#333333" stroke="#333333" textLength="6.72" lengthAdjust="spacingAndGlyphs">1</text>
<text x="536.40" y="459.29" font-size="13.54" text-anchor="middle" fill="#333333" stroke="#333333" textLength="14.54" lengthAdjust="spacingAndGlyphs">25</text>
<text x="567.40" y="459.29" font-size="13.54" text-anchor="middle" fill="#333333" stroke="#333333" textLength="6.77" lengthAdjust="spacingAndGlyphs">2</text>
<text x="598.40" y="459.29" font-size="13.54" text-anchor="middle" fill="#333333" stroke="#333333" textLength="7.02" lengthAdjust="spacingAndGlyphs">0</text>
<line x1="82.80" y1="263.12" x2="86.90" y2="263.12" stroke="#333333" stroke-width="1.1"/>
<text x="78.80" y="266.42" font-size="13.54" text-anchor="end" fill="#333333" stroke="#333333" textLength="24.76" lengthAdjust="spacingAndGlyphs">DBP</text>
<line x1="82.80" y1="284.55" x2="86.90" y2="284.55" stroke="#333333" stroke-width="1.1"/>
<text x="78.80" y="287.85" font-size="13.54" text-anchor="end" fill="#333333" stroke="#333333" textLength="23.03" lengthAdjust="spacingAndGlyphs">SBP</text>
<line x1="82.80" y1="305.98" x2="86.90" y2="305.98" stroke="#333333" stroke-width="1.1"/>
<text x="78.80" y="309.28" font-size="13.54" text-anchor="end" fill="#333333" stroke="#333333" textLength="15.49" lengthAdjust="spacingAndGlyphs">PR</text>
<line x1="82.80" y1="327.40" x2="86.90" y2="327.40" stroke="#333333" stroke-width="1.1"/>
<text x="78.80" y="330.70" font-size="13.54" text-anchor="end" fill="#333333" stroke="#333333" textLength="37.53" lengthAdjust="spacingAndGlyphs">PWASI</text>
<line x1="82.80" y1="348.84" x2="86.90" y2="348.84" stroke="#333333" stroke-width="1.1"/>
<text x="78.80" y="352.14" font-size="13.54" text-anchor="end" fill="#333333" stroke="#333333" textLength="25.17" lengthAdjust="spacingAndGlyphs">HDL</text>
<line x1="82.80" y1="370.26" x2="86.90" y2="370.26" stroke="#333333" stroke-width="1.1"/>
<text x="78.80" y="373.56" font-size="13.54" text-anchor="end" fill="#333333" stroke="#333333" textLength="22.81" lengthAdjust="spacingAndGlyphs">LDL</text>
<line x1="82.80" y1="391.69" x2="86.90" y2="391.69" stroke="#333333" stroke-width="1.1"/>
<text x="78.80" y="395.00" font-size="13.54" text-anchor="end" fill="#333333" stroke="#333333" textLength="75.61" lengthAdjust="spacingAndGlyphs">Triglycerides</text>
<line x1="82.80" y1="413.12" x2="86.90" y2="413.12" stroke="#333333" stroke-width="1.1"/>
<text x="78.80" y="416.43" font-size="13.54" text-anchor="end" fill="#333333" stroke="#333333" textLength="38.57" lengthAdjust="spacingAndGlyphs">HbA1c</text>
<line x1="82.80" y1="434.56" x2="86.90" y2="434.56" stroke="#333333" stroke-width="1.1"/>
<text x="78.80" y="437.86" font-size="13.54" text-anchor="end" fill="#333333" stroke="#333333" textLength="43.48" lengthAdjust="spacingAndGlyphs">Alcohol</text>
<line x1="82.80" y1="455.99" x2="86.90" y2="455.99" stroke="#333333" stroke-width="1.1"/>
<text x="78.80" y="459.29" font-size="13.54" text-anchor="end" fill="#333333" stroke="#333333" textLength="21.94" lengthAdjust="spacingAndGlyphs">BMI</text>
<line x1="102.40" y1="466.70" x2="102.40" y2="470.60" stroke="#333333" stroke-width="1.1"/>
<line x1="133.40" y1="466.70" x2="133.40" y2="470.60" stroke="#333333" stroke-width="1.1"/>
<line x1="164.40" y1="466.70" x2="164.40" y2="470.60" stroke="#333333" stroke-width="1.1"/>
<line x1="195.40" y1="466.70" x2="195.40" y2="470.60" stroke="#333333" stroke-width="1.1"/>
<line x1="226.40" y1="466.70" x2="226.40" y2="470.60" stroke="#333333" stroke-width="1.1"/>
<line x1="257.40" y1="466.70" x2="257.40" y2="470.60" stroke="#333333" stroke-width="1.1"/>
<line x1="288.40" y1="466.70" x2="288.40" y2="470.60" stroke="#333333" stroke-width="1.1"/>
<line x1="319.40" y1="466.70" x2="319.40" y2="470.60" stroke="#333333" stroke-width="1.1"/>
<line x1="350.40" y1="466.70" x2="350.40" y2="470.60" stroke="#333333" stroke-width="1.1"/>
<line x1="381.40" y1="466.70" x2="381.40" y2="470.60" stroke="#333333" stroke-width="1.1"/>
<line x1="412.40" y1="466.70" x2="412.40" y2="470.60" stroke="#333333" stroke-width="1.1"/>
<line x1="443.40" y1="466.70" x2="443.40" y2="470.60" stroke="#333333" stroke-width="1.1"/>
<line x1="474.40" y1="466.70" x2="474.40" y2="470.60" stroke="#333333" stroke-width="1.1"/>
<line x1="505.40" y1="466.70" x2="505.40" y2="470.60" stroke="#333333" stroke-width="1.1"/>
<line x1="536.40" y1="466.70" x2="536.40" y2="470.60" stroke="#333333" stroke-width="1.1"/>
<line x1="567.40" y1="466.70" x2="567.40" y2="470.60" stroke="#333333" stroke-width="1.1"/>
<line x1="598.40" y1="466.70" x2="598.40" y2="470.60" stroke="#333333" stroke-width="1.1"/>
<defs><linearGradient id="g1" x1="0" y1="1" x2="0" y2="0"><stop offset="0.0000" stop-color="#fcf9f5"/><stop offset="0.0312" stop-color="#f8f1e9"/><stop offset="0.0625" stop-color="#f8ece4"/><stop offset="0.0938" stop-color="#f8e7dd"/><stop offset="0.1250" stop-color="#f7e2d6"/><stop offset="0.1562" stop-color="#f8d8ca"/><stop offset="0.1875" stop-color="#f9cebc"/><stop offset="0.2188" stop-color="#f8c6b0"/><stop offset="0.2500" stop-color="#f7bda5"/><stop offset="0.2812" stop-color="#f7b39a"/><stop offset="0.3125" stop-color="#f8a98e"/><stop offset="0.3438" stop-color="#f9a083"/><stop offset="0.3750" stop-color="#f99779"/><stop offset="0.4062" stop-color="#fa8d6f"/><stop offset="0.4375" stop-color="#fb8466"/><stop offset="0.4688" stop-color="#fb7b5d"/><stop offset="0.5000" stop-color="#fb7254"/><stop offset="0.5312" stop-color="#f8674d"/><stop offset="0.5625" stop-color="#f55c46"/><stop offset="0.5938" stop-color="#f3513f"/><stop offset="0.6250" stop-color="#ef4638"/><stop offset="0.6562" stop-color="#e73e35"/><stop offset="0.6875" stop-color="#de3531"/><stop offset="0.7188" stop-color="#d62d2e"/><stop offset="0.7500" stop-color="#cd252a"/><stop offset="0.7812" stop-color="#c42328"/><stop offset="0.8125" stop-color="#bb2126"/><stop offset="0.8438" stop-color="#b21f24"/><stop offset="0.8750" stop-color="#a91d23"/><stop offset="0.9062" stop-color="#9a1921"/><stop offset="0.9375" stop-color="#8b161f"/><stop offset="0.9688" stop-color="#7d121d"/><stop offset="1.0000" stop-color="#700f1b"/></linearGradient></defs>
<rect x="627.10" y="252.40" width="9.80" height="214.30" fill="url(#g1)"/>
<line x1="636.90" y1="466.70" x2="640.80" y2="466.70" stroke="#333333" stroke-width="1.1"/>
<text x="644.50" y="471.30" font-size="13.54" text-anchor="start" fill="#333333" stroke="#333333" textLength="7.02" lengthAdjust="spacingAndGlyphs">0</text>
<line x1="636.90" y1="425.49" x2="640.80" y2="425.49" stroke="#333333" stroke-width="1.1"/>
<text x="644.50" y="430.09" font-size="13.54" text-anchor="start" fill="#333333" stroke="#333333" textLength="14.75" lengthAdjust="spacingAndGlyphs">20</text>
<line x1="636.90" y1="384.28" x2="640.80" y2="384.28" stroke="#333333" stroke-width="1.1"/>
<text x="644.50" y="388.88" font-size="13.54" text-anchor="start" fill="#333333" stroke="#333333" textLength="14.68" lengthAdjust="spacingAndGlyphs">40</text>
<line x1="636.90" y1="343.07" x2="640.80" y2="343.07" stroke="#333333" stroke-width="1.1"/>
<text x="644.50" y="347.67" font-size="13.54" text-anchor="start" fill="#333333" stroke="#333333" textLength="14.82" lengthAdjust="spacingAndGlyphs">60</text>
<line x1="636.90" y1="301.85" x2="640.80" y2="301.85" stroke="#333333" stroke-width="1.1"/>
<text x="644.50" y="306.45" font-size="13.54" text-anchor="start" fill="#333333" stroke="#333333" textLength="14.74" lengthAdjust="spacingAndGlyphs">80</text>
<line x1="636.90" y1="260.64" x2="640.80" y2="260.64" stroke="#333333" stroke-width="1.1"/>
<text x="644.50" y="265.24" font-size="13.54" text-anchor="start" fill="#333333" stroke="#333333" textLength="22.30" lengthAdjust="spacingAndGlyphs">100</text>
<text transform="translate(680.10,359.55) rotate(-90)" x="0" y="0" font-size="13.01" text-anchor="middle" fill="#333333" stroke="#333333" textLength="120.08" lengthAdjust="spacingAndGlyphs">N coherent genes</text>
<text x="1.90" y="258.00" font-size="13.3" fill="#111" stroke="#111" style="stroke-width:0.35px;font-family:'Liberation Serif',serif" textLength="17.40" lengthAdjust="spacingAndGlyphs">(b)</text>
</g>
<g>
<rect x="86.90" y="491.70" width="32.00" height="22.43" fill="#f9fcfe"/>
<rect x="117.90" y="491.70" width="32.00" height="22.43" fill="#fcfeff"/>
<rect x="148.90" y="491.70" width="32.00" height="22.43" fill="#ecf4fb"/>
<rect x="179.90" y="491.70" width="32.00" height="22.43" fill="#ebf3fb"/>
<rect x="210.90" y="491.70" width="32.00" height="22.43" fill="#e9f2fb"/>
<rect x="241.90" y="491.70" width="32.00" height="22.43" fill="#bbd7eb"/>
<rect x="272.90" y="491.70" width="32.00" height="22.43" fill="#173c74"/>
<rect x="303.90" y="491.70" width="32.00" height="22.43" fill="#7cb7da"/>
<rect x="334.90" y="491.70" width="32.00" height="22.43" fill="#ecf4fb"/>
<rect x="365.90" y="491.70" width="32.00" height="22.43" fill="#f7fafe"/>
<rect x="396.90" y="491.70" width="32.00" height="22.43" fill="#94c5df"/>
<rect x="427.90" y="491.70" width="32.00" height="22.43" fill="#cddff1"/>
<rect x="458.90" y="491.70" width="32.00" height="22.43" fill="#e9f2fb"/>
<rect x="489.90" y="491.70" width="32.00" height="22.43" fill="#ebf3fb"/>
<rect x="520.90" y="491.70" width="32.00" height="22.43" fill="#aed1e6"/>
<rect x="551.90" y="491.70" width="32.00" height="22.43" fill="#fcfeff"/>
<rect x="582.90" y="491.70" width="31.00" height="22.43" fill="#e4eff9"/>
<rect x="86.90" y="513.13" width="32.00" height="22.43" fill="#f7fafe"/>
<rect x="117.90" y="513.13" width="32.00" height="22.43" fill="#fcfeff"/>
<rect x="148.90" y="513.13" width="32.00" height="22.43" fill="#eff6fc"/>
<rect x="179.90" y="513.13" width="32.00" height="22.43" fill="#e6f0f9"/>
<rect x="210.90" y="513.13" width="32.00" height="22.43" fill="#deebf7"/>
<rect x="241.90" y="513.13" width="32.00" height="22.43" fill="#c7dcef"/>
<rect x="272.90" y="513.13" width="32.00" height="22.43" fill="#6badd5"/>
<rect x="303.90" y="513.13" width="32.00" height="22.43" fill="#caddf0"/>
<rect x="334.90" y="513.13" width="32.00" height="22.43" fill="#ecf4fb"/>
<rect x="365.90" y="513.13" width="32.00" height="22.43" fill="#e9f2fb"/>
<rect x="396.90" y="513.13" width="32.00" height="22.43" fill="#cbdef1"/>
<rect x="427.90" y="513.13" width="32.00" height="22.43" fill="#cee0f2"/>
<rect x="458.90" y="513.13" width="32.00" height="22.43" fill="#e1edf8"/>
<rect x="489.90" y="513.13" width="32.00" height="22.43" fill="#e7f1fa"/>
<rect x="520.90" y="513.13" width="32.00" height="22.43" fill="#e1edf8"/>
<rect x="551.90" y="513.13" width="32.00" height="22.43" fill="#fcfdff"/>
<rect x="582.90" y="513.13" width="31.00" height="22.43" fill="#deebf7"/>
<rect x="86.90" y="534.56" width="32.00" height="22.43" fill="#ebf3fb"/>
<rect x="117.90" y="534.56" width="32.00" height="22.43" fill="#f9fcfe"/>
<rect x="148.90" y="534.56" width="32.00" height="22.43" fill="#fcfdff"/>
<rect x="179.90" y="534.56" width="32.00" height="22.43" fill="#ecf4fb"/>
<rect x="210.90" y="534.56" width="32.00" height="22.43" fill="#e9f2fb"/>
<rect x="241.90" y="534.56" width="32.00" height="22.43" fill="#fcfdff"/>
<rect x="272.90" y="534.56" width="32.00" height="22.43" fill="#eff6fc"/>
<rect x="303.90" y="534.56" width="32.00" height="22.43" fill="#ebf3fb"/>
<rect x="334.90" y="534.56" width="32.00" height="22.43" fill="#e9f2fb"/>
<rect x="365.90" y="534.56" width="32.00" height="22.43" fill="#ebf3fb"/>
<rect x="396.90" y="534.56" width="32.00" height="22.43" fill="#f4f9fd"/>
<rect x="427.90" y="534.56" width="32.00" height="22.43" fill="#fafdff"/>
<rect x="458.90" y="534.56" width="32.00" height="22.43" fill="#f4f9fd"/>
<rect x="489.90" y="534.56" width="32.00" height="22.43" fill="#f7fafe"/>
<rect x="520.90" y="534.56" width="32.00" height="22.43" fill="#fcfeff"/>
<rect x="551.90" y="534.56" width="32.00" height="22.43" fill="#eff6fc"/>
<rect x="582.90" y="534.56" width="31.00" height="22.43" fill="#fcfdff"/>
<rect x="86.90" y="555.99" width="32.00" height="22.43" fill="#fafdff"/>
<rect x="117.90" y="555.99" width="32.00" height="22.43" fill="#fcfeff"/>
<rect x="148.90" y="555.99" width="32.00" height="22.43" fill="#ebf3fb"/>
<rect x="179.90" y="555.99" width="32.00" height="22.43" fill="#fcfeff"/>
<rect x="210.90" y="555.99" width="32.00" height="22.43" fill="#fcfeff"/>
<rect x="241.90" y="555.99" width="32.00" height="22.43" fill="#fcfeff"/>
<rect x="272.90" y="555.99" width="32.00" height="22.43" fill="#eff6fc"/>
<rect x="303.90" y="555.99" width="32.00" height="22.43" fill="#fcfeff"/>
<rect x="334.90" y="555.99" width="32.00" height="22.43" fill="#fcfeff"/>
<rect x="365.90" y="555.99" width="32.00" height="22.43" fill="#fcfeff"/>
<rect x="396.90" y="555.99" width="32.00" height="22.43" fill="#f9fcfe"/>
<rect x="427.90" y="555.99" width="32.00" height="22.43" fill="#fcfdff"/>
<rect x="458.90" y="555.99" width="32.00" height="22.43" fill="#fcfeff"/>
<rect x="489.90" y="555.99" width="32.00" height="22.43" fill="#fcfeff"/>
<rect x="520.90" y="555.99" width="32.00" height="22.43" fill="#fcfdff"/>
<rect x="551.90" y="555.99" width="32.00" height="22.43" fill="#fcfdff"/>
<rect x="582.90" y="555.99" width="31.00" height="22.43" fill="#fcfeff"/>
<rect x="86.90" y="577.42" width="32.00" height="22.43" fill="#fcfdff"/>
<rect x="117.90" y="577.42" width="32.00" height="22.43" fill="#f7fafe"/>
<rect x="148.90" y="577.42" width="32.00" height="22.43" fill="#e0ecf7"/>
<rect x="179.90" y="577.42" width="32.00" height="22.43" fill="#d4e4f3"/>
<rect x="210.90" y="577.42" width="32.00" height="22.43" fill="#e0ecf7"/>
<rect x="241.90" y="577.42" width="32.00" height="22.43" fill="#e8f1fa"/>
<rect x="272.90" y="577.42" width="32.00" height="22.43" fill="#ebf3fb"/>
<rect x="303.90" y="577.42" width="32.00" height="22.43" fill="#e9f2fb"/>
<rect x="334.90" y="577.42" width="32.00" height="22.43" fill="#d5e5f4"/>
<rect x="365.90" y="577.42" width="32.00" height="22.43" fill="#e6f0f9"/>
<rect x="396.90" y="577.42" width="32.00" height="22.43" fill="#e1edf8"/>
<rect x="427.90" y="577.42" width="32.00" height="22.43" fill="#cee0f2"/>
<rect x="458.90" y="577.42" width="32.00" height="22.43" fill="#dae8f6"/>
<rect x="489.90" y="577.42" width="32.00" height="22.43" fill="#c7dcef"/>
<rect x="520.90" y="577.42" width="32.00" height="22.43" fill="#e6f0f9"/>
<rect x="551.90" y="577.42" width="32.00" height="22.43" fill="#fcfdff"/>
<rect x="582.90" y="577.42" width="31.00" height="22.43" fill="#fcfeff"/>
<rect x="86.90" y="598.85" width="32.00" height="22.43" fill="#e7f1fa"/>
<rect x="117.90" y="598.85" width="32.00" height="22.43" fill="#f7fafe"/>
<rect x="148.90" y="598.85" width="32.00" height="22.43" fill="#ddeaf6"/>
<rect x="179.90" y="598.85" width="32.00" height="22.43" fill="#d9e7f5"/>
<rect x="210.90" y="598.85" width="32.00" height="22.43" fill="#ddeaf6"/>
<rect x="241.90" y="598.85" width="32.00" height="22.43" fill="#ddeaf6"/>
<rect x="272.90" y="598.85" width="32.00" height="22.43" fill="#cee0f2"/>
<rect x="303.90" y="598.85" width="32.00" height="22.43" fill="#f9fcfe"/>
<rect x="334.90" y="598.85" width="32.00" height="22.43" fill="#d4e4f3"/>
<rect x="365.90" y="598.85" width="32.00" height="22.43" fill="#cbdef1"/>
<rect x="396.90" y="598.85" width="32.00" height="22.43" fill="#d8e7f5"/>
<rect x="427.90" y="598.85" width="32.00" height="22.43" fill="#e6f0f9"/>
<rect x="458.90" y="598.85" width="32.00" height="22.43" fill="#eff6fc"/>
<rect x="489.90" y="598.85" width="32.00" height="22.43" fill="#e9f2fb"/>
<rect x="520.90" y="598.85" width="32.00" height="22.43" fill="#fcfeff"/>
<rect x="551.90" y="598.85" width="32.00" height="22.43" fill="#fcfeff"/>
<rect x="582.90" y="598.85" width="31.00" height="22.43" fill="#e9f2fb"/>
<rect x="86.90" y="620.28" width="32.00" height="22.43" fill="#f7fafe"/>
<rect x="117.90" y="620.28" width="32.00" height="22.43" fill="#e4eff9"/>
<rect x="148.90" y="620.28" width="32.00" height="22.43" fill="#e9f2fb"/>
<rect x="179.90" y="620.28" width="32.00" height="22.43" fill="#e9f2fb"/>
<rect x="210.90" y="620.28" width="32.00" height="22.43" fill="#e1edf8"/>
<rect x="241.90" y="620.28" width="32.00" height="22.43" fill="#eff6fc"/>
<rect x="272.90" y="620.28" width="32.00" height="22.43" fill="#b4d4e8"/>
<rect x="303.90" y="620.28" width="32.00" height="22.43" fill="#ebf3fb"/>
<rect x="334.90" y="620.28" width="32.00" height="22.43" fill="#91c3df"/>
<rect x="365.90" y="620.28" width="32.00" height="22.43" fill="#8ec1de"/>
<rect x="396.90" y="620.28" width="32.00" height="22.43" fill="#e0ecf7"/>
<rect x="427.90" y="620.28" width="32.00" height="22.43" fill="#d8e7f5"/>
<rect x="458.90" y="620.28" width="32.00" height="22.43" fill="#ddeaf6"/>
<rect x="489.90" y="620.28" width="32.00" height="22.43" fill="#e6f0f9"/>
<rect x="520.90" y="620.28" width="32.00" height="22.43" fill="#fcfeff"/>
<rect x="551.90" y="620.28" width="32.00" height="22.43" fill="#fcfdff"/>
<rect x="582.90" y="620.28" width="31.00" height="22.43" fill="#e9f2fb"/>
<rect x="86.90" y="641.71" width="32.00" height="22.43" fill="#dae8f6"/>
<rect x="117.90" y="641.71" width="32.00" height="22.43" fill="#eff6fc"/>
<rect x="148.90" y="641.71" width="32.00" height="22.43" fill="#ebf3fb"/>
<rect x="179.90" y="641.71" width="32.00" height="22.43" fill="#dce9f6"/>
<rect x="210.90" y="641.71" width="32.00" height="22.43" fill="#e0ecf7"/>
<rect x="241.90" y="641.71" width="32.00" height="22.43" fill="#e6f0f9"/>
<rect x="272.90" y="641.71" width="32.00" height="22.43" fill="#c4dbee"/>
<rect x="303.90" y="641.71" width="32.00" height="22.43" fill="#e6f0f9"/>
<rect x="334.90" y="641.71" width="32.00" height="22.43" fill="#91c3df"/>
<rect x="365.90" y="641.71" width="32.00" height="22.43" fill="#c9ddf0"/>
<rect x="396.90" y="641.71" width="32.00" height="22.43" fill="#d5e5f4"/>
<rect x="427.90" y="641.71" width="32.00" height="22.43" fill="#e9f2fb"/>
<rect x="458.90" y="641.71" width="32.00" height="22.43" fill="#ddeaf6"/>
<rect x="489.90" y="641.71" width="32.00" height="22.43" fill="#c4dbee"/>
<rect x="520.90" y="641.71" width="32.00" height="22.43" fill="#fcfeff"/>
<rect x="551.90" y="641.71" width="32.00" height="22.43" fill="#fcfeff"/>
<rect x="582.90" y="641.71" width="31.00" height="22.43" fill="#fcfdff"/>
<rect x="86.90" y="663.14" width="32.00" height="22.43" fill="#fcfeff"/>
<rect x="117.90" y="663.14" width="32.00" height="22.43" fill="#fcfeff"/>
<rect x="148.90" y="663.14" width="32.00" height="22.43" fill="#fcfeff"/>
<rect x="179.90" y="663.14" width="32.00" height="22.43" fill="#fcfdff"/>
<rect x="210.90" y="663.14" width="32.00" height="22.43" fill="#f4f9fd"/>
<rect x="241.90" y="663.14" width="32.00" height="22.43" fill="#fcfeff"/>
<rect x="272.90" y="663.14" width="32.00" height="22.43" fill="#fcfdff"/>
<rect x="303.90" y="663.14" width="32.00" height="22.43" fill="#f2f7fd"/>
<rect x="334.90" y="663.14" width="32.00" height="22.43" fill="#e3eef8"/>
<rect x="365.90" y="663.14" width="32.00" height="22.43" fill="#e4eff9"/>
<rect x="396.90" y="663.14" width="32.00" height="22.43" fill="#fcfeff"/>
<rect x="427.90" y="663.14" width="32.00" height="22.43" fill="#f9fcfe"/>
<rect x="458.90" y="663.14" width="32.00" height="22.43" fill="#fcfdff"/>
<rect x="489.90" y="663.14" width="32.00" height="22.43" fill="#fafdff"/>
<rect x="520.90" y="663.14" width="32.00" height="22.43" fill="#fcfdff"/>
<rect x="551.90" y="663.14" width="32.00" height="22.43" fill="#eff6fc"/>
<rect x="582.90" y="663.14" width="31.00" height="22.43" fill="#fcfeff"/>
<rect x="86.90" y="684.57" width="32.00" height="21.43" fill="#ecf4fb"/>
<rect x="117.90" y="684.57" width="32.00" height="21.43" fill="#fcfeff"/>
<rect x="148.90" y="684.57" width="32.00" height="21.43" fill="#e9f2fb"/>
<rect x="179.90" y="684.57" width="32.00" height="21.43" fill="#ebf3fb"/>
<rect x="210.90" y="684.57" width="32.00" height="21.43" fill="#f4f9fd"/>
<rect x="241.90" y="684.57" width="32.00" height="21.43" fill="#fcfeff"/>
<rect x="272.90" y="684.57" width="32.00" height="21.43" fill="#99c7e0"/>
<rect x="303.90" y="684.57" width="32.00" height="21.43" fill="#fcfdff"/>
<rect x="334.90" y="684.57" width="32.00" height="21.43" fill="#f7fafe"/>
<rect x="365.90" y="684.57" width="32.00" height="21.43" fill="#fcfeff"/>
<rect x="396.90" y="684.57" width="32.00" height="21.43" fill="#deebf7"/>
<rect x="427.90" y="684.57" width="32.00" height="21.43" fill="#f9fcfe"/>
<rect x="458.90" y="684.57" width="32.00" height="21.43" fill="#f9fcfe"/>
<rect x="489.90" y="684.57" width="32.00" height="21.43" fill="#d9e7f5"/>
<rect x="520.90" y="684.57" width="32.00" height="21.43" fill="#fcfeff"/>
<rect x="551.90" y="684.57" width="32.00" height="21.43" fill="#fafdff"/>
<rect x="582.90" y="684.57" width="31.00" height="21.43" fill="#fafdff"/>
<text x="102.40" y="505.71" font-size="13.54" text-anchor="middle" fill="#333333" stroke="#333333" textLength="6.74" lengthAdjust="spacingAndGlyphs">3</text>
<text x="133.40" y="505.71" font-size="13.54" text-anchor="middle" fill="#333333" stroke="#333333" textLength="7.02" lengthAdjust="spacingAndGlyphs">0</text>
<text x="164.40" y="505.71" font-size="13.54" text-anchor="middle" fill="#333333" stroke="#333333" textLength="7.11" lengthAdjust="spacingAndGlyphs">8</text>
<text x="195.40" y="505.71" font-size="13.54" text-anchor="middle" fill="#333333" stroke="#333333" textLength="7.25" lengthAdjust="spacingAndGlyphs">9</text>
<text x="226.40" y="505.71" font-size="13.54" text-anchor="middle" fill="#333333" stroke="#333333" textLength="14.66" lengthAdjust="spacingAndGlyphs">10</text>
<text x="257.40" y="505.71" font-size="13.54" text-anchor="middle" fill="#333333" stroke="#333333" textLength="14.68" lengthAdjust="spacingAndGlyphs">40</text>
<text x="288.40" y="505.71" font-size="13.54" text-anchor="middle" fill="#ffffff" stroke="#ffffff" textLength="22.30" lengthAdjust="spacingAndGlyphs">134</text>
<text x="319.40" y="505.71" font-size="13.54" text-anchor="middle" fill="#333333" stroke="#333333" textLength="14.81" lengthAdjust="spacingAndGlyphs">64</text>
<text x="350.40" y="505.71" font-size="13.54" text-anchor="middle" fill="#333333" stroke="#333333" textLength="7.11" lengthAdjust="spacingAndGlyphs">8</text>
<text x="381.40" y="505.71" font-size="13.54" text-anchor="middle" fill="#333333" stroke="#333333" textLength="7.02" lengthAdjust="spacingAndGlyphs">4</text>
<text x="412.40" y="505.71" font-size="13.54" text-anchor="middle" fill="#333333" stroke="#333333" textLength="14.70" lengthAdjust="spacingAndGlyphs">56</text>
<text x="443.40" y="505.71" font-size="13.54" text-anchor="middle" fill="#333333" stroke="#333333" textLength="14.36" lengthAdjust="spacingAndGlyphs">31</text>
<text x="474.40" y="505.71" font-size="13.54" text-anchor="middle" fill="#333333" stroke="#333333" textLength="14.66" lengthAdjust="spacingAndGlyphs">10</text>
<text x="505.40" y="505.71" font-size="13.54" text-anchor="middle" fill="#333333" stroke="#333333" textLength="7.25" lengthAdjust="spacingAndGlyphs">9</text>
<text x="536.40" y="505.71" font-size="13.54" text-anchor="middle" fill="#333333" stroke="#333333" textLength="14.80" lengthAdjust="spacingAndGlyphs">46</text>
<text x="567.40" y="505.71" font-size="13.54" text-anchor="middle" fill="#333333" stroke="#333333" textLength="7.02" lengthAdjust="spacingAndGlyphs">0</text>
<text x="598.40" y="505.71" font-size="13.54" text-anchor="middle" fill="#333333" stroke="#333333" textLength="14.66" lengthAdjust="spacingAndGlyphs">14</text>
<text x="102.40" y="527.14" font-size="13.54" text-anchor="middle" fill="#333333" stroke="#333333" textLength="7.02" lengthAdjust="spacingAndGlyphs">4</text>
<text x="133.40" y="527.14" font-size="13.54" text-anchor="middle" fill="#333333" stroke="#333333" textLength="7.02" lengthAdjust="spacingAndGlyphs">0</text>
<text x="164.40" y="527.14" font-size="13.54" text-anchor="middle" fill="#333333" stroke="#333333" textLength="6.88" lengthAdjust="spacingAndGlyphs">7</text>
<text x="195.40" y="527.14" font-size="13.54" text-anchor="middle" fill="#333333" stroke="#333333" textLength="14.55" lengthAdjust="spacingAndGlyphs">13</text>
<text x="226.40" y="527.14" font-size="13.54" text-anchor="middle" fill="#333333" stroke="#333333" textLength="14.72" lengthAdjust="spacingAndGlyphs">18</text>
<text x="257.40" y="527.14" font-size="13.54" text-anchor="middle" fill="#333333" stroke="#333333" textLength="14.33" lengthAdjust="spacingAndGlyphs">35</text>
<text x="288.40" y="527.14" font-size="13.54" text-anchor="middle" fill="#ffffff" stroke="#ffffff" textLength="14.48" lengthAdjust="spacingAndGlyphs">71</text>
<text x="319.40" y="527.14" font-size="13.54" text-anchor="middle" fill="#333333" stroke="#333333" textLength="14.43" lengthAdjust="spacingAndGlyphs">33</text>
<text x="350.40" y="527.14" font-size="13.54" text-anchor="middle" fill="#333333" stroke="#333333" textLength="7.11" lengthAdjust="spacingAndGlyphs">8</text>
<text x="381.40" y="527.14" font-size="13.54" text-anchor="middle" fill="#333333" stroke="#333333" textLength="14.66" lengthAdjust="spacingAndGlyphs">10</text>
<text x="412.40" y="527.14" font-size="13.54" text-anchor="middle" fill="#333333" stroke="#333333" textLength="14.26" lengthAdjust="spacingAndGlyphs">32</text>
<text x="443.40" y="527.14" font-size="13.54" text-anchor="middle" fill="#333333" stroke="#333333" textLength="14.54" lengthAdjust="spacingAndGlyphs">30</text>
<text x="474.40" y="527.14" font-size="13.54" text-anchor="middle" fill="#333333" stroke="#333333" textLength="14.80" lengthAdjust="spacingAndGlyphs">16</text>
<text x="505.40" y="527.14" font-size="13.54" text-anchor="middle" fill="#333333" stroke="#333333" textLength="14.37" lengthAdjust="spacingAndGlyphs">12</text>
<text x="536.40" y="527.14" font-size="13.54" text-anchor="middle" fill="#333333" stroke="#333333" textLength="14.80" lengthAdjust="spacingAndGlyphs">16</text>
<text x="567.40" y="527.14" font-size="13.54" text-anchor="middle" fill="#333333" stroke="#333333" textLength="6.72" lengthAdjust="spacingAndGlyphs">1</text>
<text x="598.40" y="527.14" font-size="13.54" text-anchor="middle" fill="#333333" stroke="#333333" textLength="14.72" lengthAdjust="spacingAndGlyphs">18</text>
<text x="102.40" y="548.57" font-size="13.54" text-anchor="middle" fill="#333333" stroke="#333333" textLength="7.25" lengthAdjust="spacingAndGlyphs">9</text>
<text x="133.40" y="548.57" font-size="13.54" text-anchor="middle" fill="#333333" stroke="#333333" textLength="6.74" lengthAdjust="spacingAndGlyphs">3</text>
<text x="164.40" y="548.57" font-size="13.54" text-anchor="middle" fill="#333333" stroke="#333333" textLength="6.72" lengthAdjust="spacingAndGlyphs">1</text>
<text x="195.40" y="548.57" font-size="13.54" text-anchor="middle" fill="#333333" stroke="#333333" textLength="7.11" lengthAdjust="spacingAndGlyphs">8</text>
<text x="226.40" y="548.57" font-size="13.54" text-anchor="middle" fill="#333333" stroke="#333333" textLength="14.66" lengthAdjust="spacingAndGlyphs">10</text>
<text x="257.40" y="548.57" font-size="13.54" text-anchor="middle" fill="#333333" stroke="#333333" textLength="6.72" lengthAdjust="spacingAndGlyphs">1</text>
<text x="288.40" y="548.57" font-size="13.54" text-anchor="middle" fill="#333333" stroke="#333333" textLength="6.88" lengthAdjust="spacingAndGlyphs">7</text>
<text x="319.40" y="548.57" font-size="13.54" text-anchor="middle" fill="#333333" stroke="#333333" textLength="7.25" lengthAdjust="spacingAndGlyphs">9</text>
<text x="350.40" y="548.57" font-size="13.54" text-anchor="middle" fill="#333333" stroke="#333333" textLength="14.66" lengthAdjust="spacingAndGlyphs">10</text>
<text x="381.40" y="548.57" font-size="13.54" text-anchor="middle" fill="#333333" stroke="#333333" textLength="7.25" lengthAdjust="spacingAndGlyphs">9</text>
<text x="412.40" y="548.57" font-size="13.54" text-anchor="middle" fill="#333333" stroke="#333333" textLength="6.64" lengthAdjust="spacingAndGlyphs">5</text>
<text x="443.40" y="548.57" font-size="13.54" text-anchor="middle" fill="#333333" stroke="#333333" textLength="6.77" lengthAdjust="spacingAndGlyphs">2</text>
<text x="474.40" y="548.57" font-size="13.54" text-anchor="middle" fill="#333333" stroke="#333333" textLength="6.64" lengthAdjust="spacingAndGlyphs">5</text>
<text x="505.40" y="548.57" font-size="13.54" text-anchor="middle" fill="#333333" stroke="#333333" textLength="7.02" lengthAdjust="spacingAndGlyphs">4</text>
<text x="536.40" y="548.57" font-size="13.54" text-anchor="middle" fill="#333333" stroke="#333333" textLength="7.02" lengthAdjust="spacingAndGlyphs">0</text>
<text x="567.40" y="548.57" font-size="13.54" text-anchor="middle" fill="#333333" stroke="#333333" textLength="6.88" lengthAdjust="spacingAndGlyphs">7</text>
<text x="598.40" y="548.57" font-size="13.54" text-anchor="middle" fill="#333333" stroke="#333333" textLength="6.72" lengthAdjust="spacingAndGlyphs">1</text>
<text x="102.40" y="570.00" font-size="13.54" text-anchor="middle" fill="#333333" stroke="#333333" textLength="6.77" lengthAdjust="spacingAndGlyphs">2</text>
<text x="133.40" y="570.00" font-size="13.54" text-anchor="middle" fill="#333333" stroke="#333333" textLength="7.02" lengthAdjust="spacingAndGlyphs">0</text>
<text x="164.40" y="570.00" font-size="13.54" text-anchor="middle" fill="#333333" stroke="#333333" textLength="7.25" lengthAdjust="spacingAndGlyphs">9</text>
<text x="195.40" y="570.00" font-size="13.54" text-anchor="middle" fill="#333333" stroke="#333333" textLength="7.02" lengthAdjust="spacingAndGlyphs">0</text>
<text x="226.40" y="570.00" font-size="13.54" text-anchor="middle" fill="#333333" stroke="#333333" textLength="7.02" lengthAdjust="spacingAndGlyphs">0</text>
<text x="257.40" y="570.00" font-size="13.54" text-anchor="middle" fill="#333333" stroke="#333333" textLength="7.02" lengthAdjust="spacingAndGlyphs">0</text>
<text x="288.40" y="570.00" font-size="13.54" text-anchor="middle" fill="#333333" stroke="#333333" textLength="6.88" lengthAdjust="spacingAndGlyphs">7</text>
<text x="319.40" y="570.00" font-size="13.54" text-anchor="middle" fill="#333333" stroke="#333333" textLength="7.02" lengthAdjust="spacingAndGlyphs">0</text>
<text x="350.40" y="570.00" font-size="13.54" text-anchor="middle" fill="#333333" stroke="#333333" textLength="7.02" lengthAdjust="spacingAndGlyphs">0</text>
<text x="381.40" y="570.00" font-size="13.54" text-anchor="middle" fill="#333333" stroke="#333333" textLength="7.02" lengthAdjust="spacingAndGlyphs">0</text>
<text x="412.40" y="570.00" font-size="13.54" text-anchor="middle" fill="#333333" stroke="#333333" textLength="6.74" lengthAdjust="spacingAndGlyphs">3</text>
<text x="443.40" y="570.00" font-size="13.54" text-anchor="middle" fill="#333333" stroke="#333333" textLength="6.72" lengthAdjust="spacingAndGlyphs">1</text>
<text x="474.40" y="570.00" font-size="13.54" text-anchor="middle" fill="#333333" stroke="#333333" textLength="7.02" lengthAdjust="spacingAndGlyphs">0</text>
<text x="505.40" y="570.00" font-size="13.54" text-anchor="middle" fill="#333333" stroke="#333333" textLength="7.02" lengthAdjust="spacingAndGlyphs">0</text>
<text x="536.40" y="570.00" font-size="13.54" text-anchor="middle" fill="#333333" stroke="#333333" textLength="6.72" lengthAdjust="spacingAndGlyphs">1</text>
<text x="567.40" y="570.00" font-size="13.54" text-anchor="middle" fill="#333333" stroke="#333333" textLength="6.72" lengthAdjust="spacingAndGlyphs">1</text>
<text x="598.40" y="570.00" font-size="13.54" text-anchor="middle" fill="#333333" stroke="#333333" textLength="7.02" lengthAdjust="spacingAndGlyphs">0</text>
<text x="102.40" y="591.43" font-size="13.54" text-anchor="middle" fill="#333333" stroke="#333333" textLength="6.72" lengthAdjust="spacingAndGlyphs">1</text>
<text x="133.40" y="591.43" font-size="13.54" text-anchor="middle" fill="#333333" stroke="#333333" textLength="7.02" lengthAdjust="spacingAndGlyphs">4</text>
<text x="164.40" y="591.43" font-size="13.54" text-anchor="middle" fill="#333333" stroke="#333333" textLength="14.59" lengthAdjust="spacingAndGlyphs">17</text>
<text x="195.40" y="591.43" font-size="13.54" text-anchor="middle" fill="#333333" stroke="#333333" textLength="14.88" lengthAdjust="spacingAndGlyphs">26</text>
<text x="226.40" y="591.43" font-size="13.54" text-anchor="middle" fill="#333333" stroke="#333333" textLength="14.59" lengthAdjust="spacingAndGlyphs">17</text>
<text x="257.40" y="591.43" font-size="13.54" text-anchor="middle" fill="#333333" stroke="#333333" textLength="14.60" lengthAdjust="spacingAndGlyphs">11</text>
<text x="288.40" y="591.43" font-size="13.54" text-anchor="middle" fill="#333333" stroke="#333333" textLength="7.25" lengthAdjust="spacingAndGlyphs">9</text>
<text x="319.40" y="591.43" font-size="13.54" text-anchor="middle" fill="#333333" stroke="#333333" textLength="14.66" lengthAdjust="spacingAndGlyphs">10</text>
<text x="350.40" y="591.43" font-size="13.54" text-anchor="middle" fill="#333333" stroke="#333333" textLength="14.54" lengthAdjust="spacingAndGlyphs">25</text>
<text x="381.40" y="591.43" font-size="13.54" text-anchor="middle" fill="#333333" stroke="#333333" textLength="14.55" lengthAdjust="spacingAndGlyphs">13</text>
<text x="412.40" y="591.43" font-size="13.54" text-anchor="middle" fill="#333333" stroke="#333333" textLength="14.80" lengthAdjust="spacingAndGlyphs">16</text>
<text x="443.40" y="591.43" font-size="13.54" text-anchor="middle" fill="#333333" stroke="#333333" textLength="14.54" lengthAdjust="spacingAndGlyphs">30</text>
<text x="474.40" y="591.43" font-size="13.54" text-anchor="middle" fill="#333333" stroke="#333333" textLength="14.57" lengthAdjust="spacingAndGlyphs">21</text>
<text x="505.40" y="591.43" font-size="13.54" text-anchor="middle" fill="#333333" stroke="#333333" textLength="14.33" lengthAdjust="spacingAndGlyphs">35</text>
<text x="536.40" y="591.43" font-size="13.54" text-anchor="middle" fill="#333333" stroke="#333333" textLength="14.55" lengthAdjust="spacingAndGlyphs">13</text>
<text x="567.40" y="591.43" font-size="13.54" text-anchor="middle" fill="#333333" stroke="#333333" textLength="6.72" lengthAdjust="spacingAndGlyphs">1</text>
<text x="598.40" y="591.43" font-size="13.54" text-anchor="middle" fill="#333333" stroke="#333333" textLength="7.02" lengthAdjust="spacingAndGlyphs">0</text>
<text x="102.40" y="612.86" font-size="13.54" text-anchor="middle" fill="#333333" stroke="#333333" textLength="14.37" lengthAdjust="spacingAndGlyphs">12</text>
<text x="133.40" y="612.86" font-size="13.54" text-anchor="middle" fill="#333333" stroke="#333333" textLength="7.02" lengthAdjust="spacingAndGlyphs">4</text>
<text x="164.40" y="612.86" font-size="13.54" text-anchor="middle" fill="#333333" stroke="#333333" textLength="14.73" lengthAdjust="spacingAndGlyphs">19</text>
<text x="195.40" y="612.86" font-size="13.54" text-anchor="middle" fill="#333333" stroke="#333333" textLength="14.47" lengthAdjust="spacingAndGlyphs">22</text>
<text x="226.40" y="612.86" font-size="13.54" text-anchor="middle" fill="#333333" stroke="#333333" textLength="14.73" lengthAdjust="spacingAndGlyphs">19</text>
<text x="257.40" y="612.86" font-size="13.54" text-anchor="middle" fill="#333333" stroke="#333333" textLength="14.73" lengthAdjust="spacingAndGlyphs">19</text>
<text x="288.40" y="612.86" font-size="13.54" text-anchor="middle" fill="#333333" stroke="#333333" textLength="14.54" lengthAdjust="spacingAndGlyphs">30</text>
<text x="319.40" y="612.86" font-size="13.54" text-anchor="middle" fill="#333333" stroke="#333333" textLength="6.74" lengthAdjust="spacingAndGlyphs">3</text>
<text x="350.40" y="612.86" font-size="13.54" text-anchor="middle" fill="#333333" stroke="#333333" textLength="14.88" lengthAdjust="spacingAndGlyphs">26</text>
<text x="381.40" y="612.86" font-size="13.54" text-anchor="middle" fill="#333333" stroke="#333333" textLength="14.26" lengthAdjust="spacingAndGlyphs">32</text>
<text x="412.40" y="612.86" font-size="13.54" text-anchor="middle" fill="#333333" stroke="#333333" textLength="14.64" lengthAdjust="spacingAndGlyphs">23</text>
<text x="443.40" y="612.86" font-size="13.54" text-anchor="middle" fill="#333333" stroke="#333333" textLength="14.55" lengthAdjust="spacingAndGlyphs">13</text>
<text x="474.40" y="612.86" font-size="13.54" text-anchor="middle" fill="#333333" stroke="#333333" textLength="6.88" lengthAdjust="spacingAndGlyphs">7</text>
<text x="505.40" y="612.86" font-size="13.54" text-anchor="middle" fill="#333333" stroke="#333333" textLength="14.66" lengthAdjust="spacingAndGlyphs">10</text>
<text x="536.40" y="612.86" font-size="13.54" text-anchor="middle" fill="#333333" stroke="#333333" textLength="7.02" lengthAdjust="spacingAndGlyphs">0</text>
<text x="567.40" y="612.86" font-size="13.54" text-anchor="middle" fill="#333333" stroke="#333333" textLength="7.02" lengthAdjust="spacingAndGlyphs">0</text>
<text x="598.40" y="612.86" font-size="13.54" text-anchor="middle" fill="#333333" stroke="#333333" textLength="14.66" lengthAdjust="spacingAndGlyphs">10</text>
<text x="102.40" y="634.29" font-size="13.54" text-anchor="middle" fill="#333333" stroke="#333333" textLength="7.02" lengthAdjust="spacingAndGlyphs">4</text>
<text x="133.40" y="634.29" font-size="13.54" text-anchor="middle" fill="#333333" stroke="#333333" textLength="14.66" lengthAdjust="spacingAndGlyphs">14</text>
<text x="164.40" y="634.29" font-size="13.54" text-anchor="middle" fill="#333333" stroke="#333333" textLength="14.66" lengthAdjust="spacingAndGlyphs">10</text>
<text x="195.40" y="634.29" font-size="13.54" text-anchor="middle" fill="#333333" stroke="#333333" textLength="14.66" lengthAdjust="spacingAndGlyphs">10</text>
<text x="226.40" y="634.29" font-size="13.54" text-anchor="middle" fill="#333333" stroke="#333333" textLength="14.80" lengthAdjust="spacingAndGlyphs">16</text>
<text x="257.40" y="634.29" font-size="13.54" text-anchor="middle" fill="#333333" stroke="#333333" textLength="6.88" lengthAdjust="spacingAndGlyphs">7</text>
<text x="288.40" y="634.29" font-size="13.54" text-anchor="middle" fill="#333333" stroke="#333333" textLength="14.57" lengthAdjust="spacingAndGlyphs">43</text>
<text x="319.40" y="634.29" font-size="13.54" text-anchor="middle" fill="#333333" stroke="#333333" textLength="7.25" lengthAdjust="spacingAndGlyphs">9</text>
<text x="350.40" y="634.29" font-size="13.54" text-anchor="middle" fill="#333333" stroke="#333333" textLength="14.50" lengthAdjust="spacingAndGlyphs">57</text>
<text x="381.40" y="634.29" font-size="13.54" text-anchor="middle" fill="#333333" stroke="#333333" textLength="14.62" lengthAdjust="spacingAndGlyphs">58</text>
<text x="412.40" y="634.29" font-size="13.54" text-anchor="middle" fill="#333333" stroke="#333333" textLength="14.59" lengthAdjust="spacingAndGlyphs">17</text>
<text x="443.40" y="634.29" font-size="13.54" text-anchor="middle" fill="#333333" stroke="#333333" textLength="14.64" lengthAdjust="spacingAndGlyphs">23</text>
<text x="474.40" y="634.29" font-size="13.54" text-anchor="middle" fill="#333333" stroke="#333333" textLength="14.73" lengthAdjust="spacingAndGlyphs">19</text>
<text x="505.40" y="634.29" font-size="13.54" text-anchor="middle" fill="#333333" stroke="#333333" textLength="14.55" lengthAdjust="spacingAndGlyphs">13</text>
<text x="536.40" y="634.29" font-size="13.54" text-anchor="middle" fill="#333333" stroke="#333333" textLength="7.02" lengthAdjust="spacingAndGlyphs">0</text>
<text x="567.40" y="634.29" font-size="13.54" text-anchor="middle" fill="#333333" stroke="#333333" textLength="6.72" lengthAdjust="spacingAndGlyphs">1</text>
<text x="598.40" y="634.29" font-size="13.54" text-anchor="middle" fill="#333333" stroke="#333333" textLength="14.66" lengthAdjust="spacingAndGlyphs">10</text>
<text x="102.40" y="655.72" font-size="13.54" text-anchor="middle" fill="#333333" stroke="#333333" textLength="14.57" lengthAdjust="spacingAndGlyphs">21</text>
<text x="133.40" y="655.72" font-size="13.54" text-anchor="middle" fill="#333333" stroke="#333333" textLength="6.88" lengthAdjust="spacingAndGlyphs">7</text>
<text x="164.40" y="655.72" font-size="13.54" text-anchor="middle" fill="#333333" stroke="#333333" textLength="7.25" lengthAdjust="spacingAndGlyphs">9</text>
<text x="195.40" y="655.72" font-size="13.54" text-anchor="middle" fill="#333333" stroke="#333333" textLength="14.75" lengthAdjust="spacingAndGlyphs">20</text>
<text x="226.40" y="655.72" font-size="13.54" text-anchor="middle" fill="#333333" stroke="#333333" textLength="14.59" lengthAdjust="spacingAndGlyphs">17</text>
<text x="257.40" y="655.72" font-size="13.54" text-anchor="middle" fill="#333333" stroke="#333333" textLength="14.55" lengthAdjust="spacingAndGlyphs">13</text>
<text x="288.40" y="655.72" font-size="13.54" text-anchor="middle" fill="#333333" stroke="#333333" textLength="14.67" lengthAdjust="spacingAndGlyphs">36</text>
<text x="319.40" y="655.72" font-size="13.54" text-anchor="middle" fill="#333333" stroke="#333333" textLength="14.55" lengthAdjust="spacingAndGlyphs">13</text>
<text x="350.40" y="655.72" font-size="13.54" text-anchor="middle" fill="#333333" stroke="#333333" textLength="14.50" lengthAdjust="spacingAndGlyphs">57</text>
<text x="381.40" y="655.72" font-size="13.54" text-anchor="middle" fill="#333333" stroke="#333333" textLength="14.53" lengthAdjust="spacingAndGlyphs">34</text>
<text x="412.40" y="655.72" font-size="13.54" text-anchor="middle" fill="#333333" stroke="#333333" textLength="14.54" lengthAdjust="spacingAndGlyphs">25</text>
<text x="443.40" y="655.72" font-size="13.54" text-anchor="middle" fill="#333333" stroke="#333333" textLength="14.66" lengthAdjust="spacingAndGlyphs">10</text>
<text x="474.40" y="655.72" font-size="13.54" text-anchor="middle" fill="#333333" stroke="#333333" textLength="14.73" lengthAdjust="spacingAndGlyphs">19</text>
<text x="505.40" y="655.72" font-size="13.54" text-anchor="middle" fill="#333333" stroke="#333333" textLength="14.67" lengthAdjust="spacingAndGlyphs">36</text>
<text x="536.40" y="655.72" font-size="13.54" text-anchor="middle" fill="#333333" stroke="#333333" textLength="7.02" lengthAdjust="spacingAndGlyphs">0</text>
<text x="567.40" y="655.72" font-size="13.54" text-anchor="middle" fill="#333333" stroke="#333333" textLength="7.02" lengthAdjust="spacingAndGlyphs">0</text>
<text x="598.40" y="655.72" font-size="13.54" text-anchor="middle" fill="#333333" stroke="#333333" textLength="6.72" lengthAdjust="spacingAndGlyphs">1</text>
<text x="102.40" y="677.15" font-size="13.54" text-anchor="middle" fill="#333333" stroke="#333333" textLength="7.02" lengthAdjust="spacingAndGlyphs">0</text>
<text x="133.40" y="677.15" font-size="13.54" text-anchor="middle" fill="#333333" stroke="#333333" textLength="7.02" lengthAdjust="spacingAndGlyphs">0</text>
<text x="164.40" y="677.15" font-size="13.54" text-anchor="middle" fill="#333333" stroke="#333333" textLength="7.02" lengthAdjust="spacingAndGlyphs">0</text>
<text x="195.40" y="677.15" font-size="13.54" text-anchor="middle" fill="#333333" stroke="#333333" textLength="6.72" lengthAdjust="spacingAndGlyphs">1</text>
<text x="226.40" y="677.15" font-size="13.54" text-anchor="middle" fill="#333333" stroke="#333333" textLength="6.64" lengthAdjust="spacingAndGlyphs">5</text>
<text x="257.40" y="677.15" font-size="13.54" text-anchor="middle" fill="#333333" stroke="#333333" textLength="7.02" lengthAdjust="spacingAndGlyphs">0</text>
<text x="288.40" y="677.15" font-size="13.54" text-anchor="middle" fill="#333333" stroke="#333333" textLength="6.72" lengthAdjust="spacingAndGlyphs">1</text>
<text x="319.40" y="677.15" font-size="13.54" text-anchor="middle" fill="#333333" stroke="#333333" textLength="7.28" lengthAdjust="spacingAndGlyphs">6</text>
<text x="350.40" y="677.15" font-size="13.54" text-anchor="middle" fill="#333333" stroke="#333333" textLength="14.44" lengthAdjust="spacingAndGlyphs">15</text>
<text x="381.40" y="677.15" font-size="13.54" text-anchor="middle" fill="#333333" stroke="#333333" textLength="14.66" lengthAdjust="spacingAndGlyphs">14</text>
<text x="412.40" y="677.15" font-size="13.54" text-anchor="middle" fill="#333333" stroke="#333333" textLength="7.02" lengthAdjust="spacingAndGlyphs">0</text>
<text x="443.40" y="677.15" font-size="13.54" text-anchor="middle" fill="#333333" stroke="#333333" textLength="6.74" lengthAdjust="spacingAndGlyphs">3</text>
<text x="474.40" y="677.15" font-size="13.54" text-anchor="middle" fill="#333333" stroke="#333333" textLength="6.72" lengthAdjust="spacingAndGlyphs">1</text>
<text x="505.40" y="677.15" font-size="13.54" text-anchor="middle" fill="#333333" stroke="#333333" textLength="6.77" lengthAdjust="spacingAndGlyphs">2</text>
<text x="536.40" y="677.15" font-size="13.54" text-anchor="middle" fill="#333333" stroke="#333333" textLength="6.72" lengthAdjust="spacingAndGlyphs">1</text>
<text x="567.40" y="677.15" font-size="13.54" text-anchor="middle" fill="#333333" stroke="#333333" textLength="6.88" lengthAdjust="spacingAndGlyphs">7</text>
<text x="598.40" y="677.15" font-size="13.54" text-anchor="middle" fill="#333333" stroke="#333333" textLength="7.02" lengthAdjust="spacingAndGlyphs">0</text>
<text x="102.40" y="698.58" font-size="13.54" text-anchor="middle" fill="#333333" stroke="#333333" textLength="7.11" lengthAdjust="spacingAndGlyphs">8</text>
<text x="133.40" y="698.58" font-size="13.54" text-anchor="middle" fill="#333333" stroke="#333333" textLength="7.02" lengthAdjust="spacingAndGlyphs">0</text>
<text x="164.40" y="698.58" font-size="13.54" text-anchor="middle" fill="#333333" stroke="#333333" textLength="14.66" lengthAdjust="spacingAndGlyphs">10</text>
<text x="195.40" y="698.58" font-size="13.54" text-anchor="middle" fill="#333333" stroke="#333333" textLength="7.25" lengthAdjust="spacingAndGlyphs">9</text>
<text x="226.40" y="698.58" font-size="13.54" text-anchor="middle" fill="#333333" stroke="#333333" textLength="6.64" lengthAdjust="spacingAndGlyphs">5</text>
<text x="257.40" y="698.58" font-size="13.54" text-anchor="middle" fill="#333333" stroke="#333333" textLength="7.02" lengthAdjust="spacingAndGlyphs">0</text>
<text x="288.40" y="698.58" font-size="13.54" text-anchor="middle" fill="#333333" stroke="#333333" textLength="14.56" lengthAdjust="spacingAndGlyphs">54</text>
<text x="319.40" y="698.58" font-size="13.54" text-anchor="middle" fill="#333333" stroke="#333333" textLength="6.72" lengthAdjust="spacingAndGlyphs">1</text>
<text x="350.40" y="698.58" font-size="13.54" text-anchor="middle" fill="#333333" stroke="#333333" textLength="7.02" lengthAdjust="spacingAndGlyphs">4</text>
<text x="381.40" y="698.58" font-size="13.54" text-anchor="middle" fill="#333333" stroke="#333333" textLength="7.02" lengthAdjust="spacingAndGlyphs">0</text>
<text x="412.40" y="698.58" font-size="13.54" text-anchor="middle" fill="#333333" stroke="#333333" textLength="14.72" lengthAdjust="spacingAndGlyphs">18</text>
<text x="443.40" y="698.58" font-size="13.54" text-anchor="middle" fill="#333333" stroke="#333333" textLength="6.74" lengthAdjust="spacingAndGlyphs">3</text>
<text x="474.40" y="698.58" font-size="13.54" text-anchor="middle" fill="#333333" stroke="#333333" textLength="6.74" lengthAdjust="spacingAndGlyphs">3</text>
<text x="505.40" y="698.58" font-size="13.54" text-anchor="middle" fill="#333333" stroke="#333333" textLength="14.47" lengthAdjust="spacingAndGlyphs">22</text>
<text x="536.40" y="698.58" font-size="13.54" text-anchor="middle" fill="#333333" stroke="#333333" textLength="7.02" lengthAdjust="spacingAndGlyphs">0</text>
<text x="567.40" y="698.58" font-size="13.54" text-anchor="middle" fill="#333333" stroke="#333333" textLength="6.77" lengthAdjust="spacingAndGlyphs">2</text>
<text x="598.40" y="698.58" font-size="13.54" text-anchor="middle" fill="#333333" stroke="#333333" textLength="6.77" lengthAdjust="spacingAndGlyphs">2</text>
<line x1="82.80" y1="502.41" x2="86.90" y2="502.41" stroke="#333333" stroke-width="1.1"/>
<text x="78.80" y="505.71" font-size="13.54" text-anchor="end" fill="#333333" stroke="#333333" textLength="24.76" lengthAdjust="spacingAndGlyphs">DBP</text>
<line x1="82.80" y1="523.85" x2="86.90" y2="523.85" stroke="#333333" stroke-width="1.1"/>
<text x="78.80" y="527.14" font-size="13.54" text-anchor="end" fill="#333333" stroke="#333333" textLength="23.03" lengthAdjust="spacingAndGlyphs">SBP</text>
<line x1="82.80" y1="545.27" x2="86.90" y2="545.27" stroke="#333333" stroke-width="1.1"/>
<text x="78.80" y="548.57" font-size="13.54" text-anchor="end" fill="#333333" stroke="#333333" textLength="15.49" lengthAdjust="spacingAndGlyphs">PR</text>
<line x1="82.80" y1="566.70" x2="86.90" y2="566.70" stroke="#333333" stroke-width="1.1"/>
<text x="78.80" y="570.00" font-size="13.54" text-anchor="end" fill="#333333" stroke="#333333" textLength="37.53" lengthAdjust="spacingAndGlyphs">PWASI</text>
<line x1="82.80" y1="588.13" x2="86.90" y2="588.13" stroke="#333333" stroke-width="1.1"/>
<text x="78.80" y="591.43" font-size="13.54" text-anchor="end" fill="#333333" stroke="#333333" textLength="25.17" lengthAdjust="spacingAndGlyphs">HDL</text>
<line x1="82.80" y1="609.56" x2="86.90" y2="609.56" stroke="#333333" stroke-width="1.1"/>
<text x="78.80" y="612.86" font-size="13.54" text-anchor="end" fill="#333333" stroke="#333333" textLength="22.81" lengthAdjust="spacingAndGlyphs">LDL</text>
<line x1="82.80" y1="631.00" x2="86.90" y2="631.00" stroke="#333333" stroke-width="1.1"/>
<text x="78.80" y="634.29" font-size="13.54" text-anchor="end" fill="#333333" stroke="#333333" textLength="75.61" lengthAdjust="spacingAndGlyphs">Triglycerides</text>
<line x1="82.80" y1="652.42" x2="86.90" y2="652.42" stroke="#333333" stroke-width="1.1"/>
<text x="78.80" y="655.72" font-size="13.54" text-anchor="end" fill="#333333" stroke="#333333" textLength="38.57" lengthAdjust="spacingAndGlyphs">HbA1c</text>
<line x1="82.80" y1="673.86" x2="86.90" y2="673.86" stroke="#333333" stroke-width="1.1"/>
<text x="78.80" y="677.15" font-size="13.54" text-anchor="end" fill="#333333" stroke="#333333" textLength="43.48" lengthAdjust="spacingAndGlyphs">Alcohol</text>
<line x1="82.80" y1="695.28" x2="86.90" y2="695.28" stroke="#333333" stroke-width="1.1"/>
<text x="78.80" y="698.58" font-size="13.54" text-anchor="end" fill="#333333" stroke="#333333" textLength="21.94" lengthAdjust="spacingAndGlyphs">BMI</text>
<line x1="102.40" y1="706.00" x2="102.40" y2="709.90" stroke="#333333" stroke-width="1.1"/>
<line x1="133.40" y1="706.00" x2="133.40" y2="709.90" stroke="#333333" stroke-width="1.1"/>
<line x1="164.40" y1="706.00" x2="164.40" y2="709.90" stroke="#333333" stroke-width="1.1"/>
<line x1="195.40" y1="706.00" x2="195.40" y2="709.90" stroke="#333333" stroke-width="1.1"/>
<line x1="226.40" y1="706.00" x2="226.40" y2="709.90" stroke="#333333" stroke-width="1.1"/>
<line x1="257.40" y1="706.00" x2="257.40" y2="709.90" stroke="#333333" stroke-width="1.1"/>
<line x1="288.40" y1="706.00" x2="288.40" y2="709.90" stroke="#333333" stroke-width="1.1"/>
<line x1="319.40" y1="706.00" x2="319.40" y2="709.90" stroke="#333333" stroke-width="1.1"/>
<line x1="350.40" y1="706.00" x2="350.40" y2="709.90" stroke="#333333" stroke-width="1.1"/>
<line x1="381.40" y1="706.00" x2="381.40" y2="709.90" stroke="#333333" stroke-width="1.1"/>
<line x1="412.40" y1="706.00" x2="412.40" y2="709.90" stroke="#333333" stroke-width="1.1"/>
<line x1="443.40" y1="706.00" x2="443.40" y2="709.90" stroke="#333333" stroke-width="1.1"/>
<line x1="474.40" y1="706.00" x2="474.40" y2="709.90" stroke="#333333" stroke-width="1.1"/>
<line x1="505.40" y1="706.00" x2="505.40" y2="709.90" stroke="#333333" stroke-width="1.1"/>
<line x1="536.40" y1="706.00" x2="536.40" y2="709.90" stroke="#333333" stroke-width="1.1"/>
<line x1="567.40" y1="706.00" x2="567.40" y2="709.90" stroke="#333333" stroke-width="1.1"/>
<line x1="598.40" y1="706.00" x2="598.40" y2="709.90" stroke="#333333" stroke-width="1.1"/>
<defs><linearGradient id="g2" x1="0" y1="1" x2="0" y2="0"><stop offset="0.0000" stop-color="#fcfeff"/><stop offset="0.0312" stop-color="#f6fafe"/><stop offset="0.0625" stop-color="#ecf4fb"/><stop offset="0.0938" stop-color="#e6f0f9"/><stop offset="0.1250" stop-color="#e0ecf7"/><stop offset="0.1562" stop-color="#dae8f6"/><stop offset="0.1875" stop-color="#d5e5f4"/><stop offset="0.2188" stop-color="#cfe1f2"/><stop offset="0.2500" stop-color="#c9ddf0"/><stop offset="0.2812" stop-color="#c0d9ed"/><stop offset="0.3125" stop-color="#b6d5e9"/><stop offset="0.3438" stop-color="#add1e6"/><stop offset="0.3750" stop-color="#a3cde3"/><stop offset="0.4062" stop-color="#97c6e0"/><stop offset="0.4375" stop-color="#8bc0dd"/><stop offset="0.4688" stop-color="#7fb9db"/><stop offset="0.5000" stop-color="#73b2d8"/><stop offset="0.5312" stop-color="#69acd4"/><stop offset="0.5625" stop-color="#60a5d1"/><stop offset="0.5938" stop-color="#569fcd"/><stop offset="0.6250" stop-color="#4d98c9"/><stop offset="0.6562" stop-color="#4590c5"/><stop offset="0.6875" stop-color="#3d88c1"/><stop offset="0.7188" stop-color="#3580bd"/><stop offset="0.7500" stop-color="#2e79b9"/><stop offset="0.7812" stop-color="#2871b3"/><stop offset="0.8125" stop-color="#226aad"/><stop offset="0.8438" stop-color="#1c62a7"/><stop offset="0.8750" stop-color="#175aa1"/><stop offset="0.9062" stop-color="#175395"/><stop offset="0.9375" stop-color="#174b89"/><stop offset="0.9688" stop-color="#17437e"/><stop offset="1.0000" stop-color="#173c74"/></linearGradient></defs>
<rect x="627.10" y="491.70" width="9.80" height="214.30" fill="url(#g2)"/>
<line x1="636.90" y1="706.00" x2="640.80" y2="706.00" stroke="#333333" stroke-width="1.1"/>
<text x="644.50" y="710.60" font-size="13.54" text-anchor="start" fill="#333333" stroke="#333333" textLength="7.02" lengthAdjust="spacingAndGlyphs">0</text>
<line x1="636.90" y1="674.01" x2="640.80" y2="674.01" stroke="#333333" stroke-width="1.1"/>
<text x="644.50" y="678.61" font-size="13.54" text-anchor="start" fill="#333333" stroke="#333333" textLength="14.75" lengthAdjust="spacingAndGlyphs">20</text>
<line x1="636.90" y1="642.03" x2="640.80" y2="642.03" stroke="#333333" stroke-width="1.1"/>
<text x="644.50" y="646.63" font-size="13.54" text-anchor="start" fill="#333333" stroke="#333333" textLength="14.68" lengthAdjust="spacingAndGlyphs">40</text>
<line x1="636.90" y1="610.04" x2="640.80" y2="610.04" stroke="#333333" stroke-width="1.1"/>
<text x="644.50" y="614.64" font-size="13.54" text-anchor="start" fill="#333333" stroke="#333333" textLength="14.82" lengthAdjust="spacingAndGlyphs">60</text>
<line x1="636.90" y1="578.06" x2="640.80" y2="578.06" stroke="#333333" stroke-width="1.1"/>
<text x="644.50" y="582.66" font-size="13.54" text-anchor="start" fill="#333333" stroke="#333333" textLength="14.74" lengthAdjust="spacingAndGlyphs">80</text>
<line x1="636.90" y1="546.07" x2="640.80" y2="546.07" stroke="#333333" stroke-width="1.1"/>
<text x="644.50" y="550.67" font-size="13.54" text-anchor="start" fill="#333333" stroke="#333333" textLength="22.30" lengthAdjust="spacingAndGlyphs">100</text>
<line x1="636.90" y1="514.09" x2="640.80" y2="514.09" stroke="#333333" stroke-width="1.1"/>
<text x="644.50" y="518.69" font-size="13.54" text-anchor="start" fill="#333333" stroke="#333333" textLength="22.30" lengthAdjust="spacingAndGlyphs">120</text>
<text transform="translate(680.20,598.85) rotate(-90)" x="0" y="0" font-size="13.01" text-anchor="middle" fill="#333333" stroke="#333333" textLength="151.08" lengthAdjust="spacingAndGlyphs">N anti-coherent genes</text>
<text x="2.10" y="502.80" font-size="13.3" fill="#111" stroke="#111" style="stroke-width:0.35px;font-family:'Liberation Serif',serif" textLength="15.60" lengthAdjust="spacingAndGlyphs">(c)</text>
</g>
<text transform="matrix(0.9579,-1.0404,0.9579,1.0404,109.35,722.10)" x="0" y="0" font-size="9.61" text-anchor="end" fill="#333333" stroke="#333333" style="stroke-width:0.12px" textLength="78.26" lengthAdjust="spacingAndGlyphs">A temporal angle</text>
<text transform="matrix(0.9579,-1.0404,0.9579,1.0404,140.35,722.10)" x="0" y="0" font-size="9.61" text-anchor="end" fill="#333333" stroke="#333333" style="stroke-width:0.12px" textLength="78.28" lengthAdjust="spacingAndGlyphs">V temporal angle</text>
<text transform="matrix(0.9579,-1.0404,0.9579,1.0404,171.35,722.10)" x="0" y="0" font-size="9.61" text-anchor="end" fill="#333333" stroke="#333333" style="stroke-width:0.12px" textLength="52.72" lengthAdjust="spacingAndGlyphs">V tortuosity</text>
<text transform="matrix(0.9579,-1.0404,0.9579,1.0404,202.35,722.10)" x="0" y="0" font-size="9.61" text-anchor="end" fill="#333333" stroke="#333333" style="stroke-width:0.12px" textLength="52.70" lengthAdjust="spacingAndGlyphs">A tortuosity</text>
<text transform="matrix(0.9579,-1.0404,0.9579,1.0404,233.35,722.10)" x="0" y="0" font-size="9.61" text-anchor="end" fill="#333333" stroke="#333333" style="stroke-width:0.12px" textLength="67.36" lengthAdjust="spacingAndGlyphs">ratio tortuosity</text>
<text transform="matrix(0.9579,-1.0404,0.9579,1.0404,264.35,722.10)" x="0" y="0" font-size="9.61" text-anchor="end" fill="#333333" stroke="#333333" style="stroke-width:0.12px" textLength="86.80" lengthAdjust="spacingAndGlyphs">A central retinal eq</text>
<text transform="matrix(0.9579,-1.0404,0.9579,1.0404,295.35,722.10)" x="0" y="0" font-size="9.61" text-anchor="end" fill="#333333" stroke="#333333" style="stroke-width:0.12px" textLength="101.45" lengthAdjust="spacingAndGlyphs">ratio central retinal eq</text>
<text transform="matrix(0.9579,-1.0404,0.9579,1.0404,326.35,722.10)" x="0" y="0" font-size="9.61" text-anchor="end" fill="#333333" stroke="#333333" style="stroke-width:0.12px" textLength="67.33" lengthAdjust="spacingAndGlyphs">A std diameter</text>
<text transform="matrix(0.9579,-1.0404,0.9579,1.0404,357.35,722.10)" x="0" y="0" font-size="9.61" text-anchor="end" fill="#333333" stroke="#333333" style="stroke-width:0.12px" textLength="67.36" lengthAdjust="spacingAndGlyphs">V std diameter</text>
<text transform="matrix(0.9579,-1.0404,0.9579,1.0404,388.35,722.10)" x="0" y="0" font-size="9.61" text-anchor="end" fill="#333333" stroke="#333333" style="stroke-width:0.12px" textLength="86.82" lengthAdjust="spacingAndGlyphs">V central retinal eq</text>
<text transform="matrix(0.9579,-1.0404,0.9579,1.0404,419.35,722.10)" x="0" y="0" font-size="9.61" text-anchor="end" fill="#333333" stroke="#333333" style="stroke-width:0.12px" textLength="97.86" lengthAdjust="spacingAndGlyphs">ratio vascular density</text>
<text transform="matrix(0.9579,-1.0404,0.9579,1.0404,450.35,722.10)" x="0" y="0" font-size="9.61" text-anchor="end" fill="#333333" stroke="#333333" style="stroke-width:0.12px" textLength="83.23" lengthAdjust="spacingAndGlyphs">A vascular density</text>
<text transform="matrix(0.9579,-1.0404,0.9579,1.0404,481.35,722.10)" x="0" y="0" font-size="9.61" text-anchor="end" fill="#333333" stroke="#333333" style="stroke-width:0.12px" textLength="53.23" lengthAdjust="spacingAndGlyphs">bifurcations</text>
<text transform="matrix(0.9579,-1.0404,0.9579,1.0404,512.35,722.10)" x="0" y="0" font-size="9.61" text-anchor="end" fill="#333333" stroke="#333333" style="stroke-width:0.12px" textLength="83.25" lengthAdjust="spacingAndGlyphs">V vascular density</text>
<text transform="matrix(0.9579,-1.0404,0.9579,1.0404,543.35,722.10)" x="0" y="0" font-size="9.61" text-anchor="end" fill="#333333" stroke="#333333" style="stroke-width:0.12px" textLength="87.33" lengthAdjust="spacingAndGlyphs">A median diameter</text>
<text transform="matrix(0.9579,-1.0404,0.9579,1.0404,574.35,722.10)" x="0" y="0" font-size="9.61" text-anchor="end" fill="#333333" stroke="#333333" style="stroke-width:0.12px" textLength="87.35" lengthAdjust="spacingAndGlyphs">V median diameter</text>
<text transform="matrix(0.9579,-1.0404,0.9579,1.0404,605.35,722.10)" x="0" y="0" font-size="9.61" text-anchor="end" fill="#333333" stroke="#333333" style="stroke-width:0.12px" textLength="101.97" lengthAdjust="spacingAndGlyphs">ratio median diameter</text></svg>
</body></html>
